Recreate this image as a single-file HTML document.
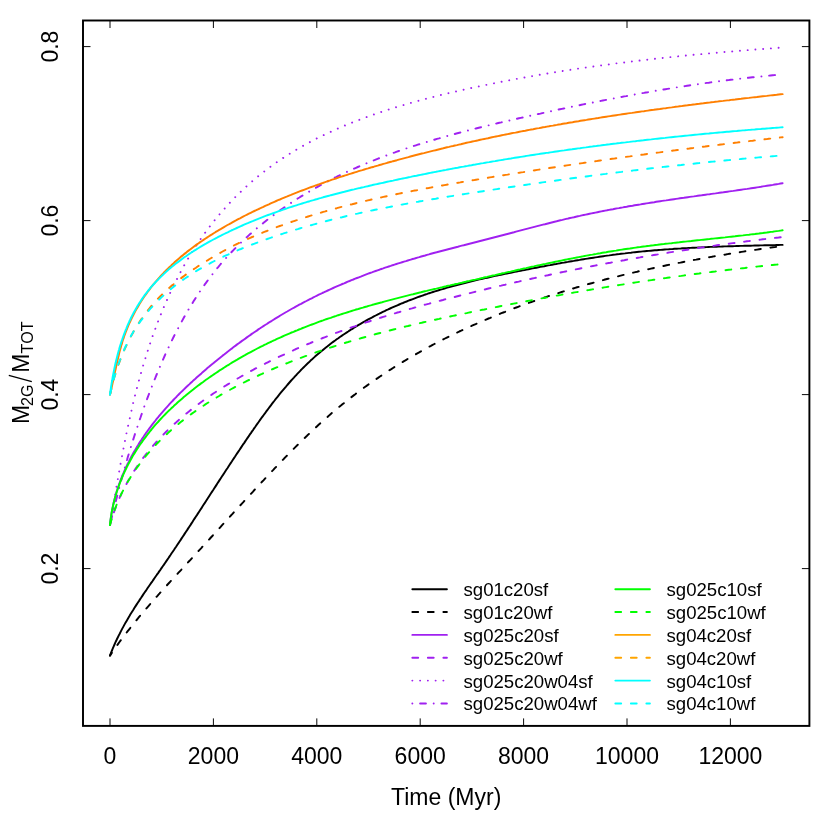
<!DOCTYPE html>
<html><head><meta charset="utf-8"><title>plot</title>
<style>html,body{margin:0;padding:0;background:#fff;}body{width:830px;height:830px;overflow:hidden;font-family:"Liberation Sans",sans-serif;}svg{display:block;}</style></head>
<body>
<svg width="830" height="830" viewBox="0 0 830 830">
<defs><filter id="idf" x="0" y="0" width="830" height="830" filterUnits="userSpaceOnUse" color-interpolation-filters="sRGB"><feOffset dx="0" dy="0"/></filter></defs>
<rect x="0" y="0" width="830" height="830" fill="#ffffff"/>
<g fill="none" stroke-width="1.94" stroke-linecap="round" stroke-linejoin="round">
<path stroke="#000000" d="M110.0 655.6L110.7 653.7L111.4 651.8L112.2 650.0L112.9 648.1L113.7 646.3L114.5 644.5L115.3 642.6L116.2 640.8L117.0 639.0L117.9 637.2L118.8 635.4L119.7 633.7L120.6 631.9L121.5 630.1L122.4 628.4L123.4 626.6L124.3 624.9L125.3 623.1L126.3 621.4L127.3 619.7L128.3 618.0L129.3 616.3L130.3 614.5L131.4 612.8L132.4 611.2L133.5 609.5L134.5 607.8L135.6 606.1L136.7 604.4L137.8 602.7L138.9 601.1L140.0 599.4L141.1 597.8L142.2 596.1L143.3 594.4L144.4 592.8L145.6 591.1L146.7 589.5L147.8 587.8L148.9 586.2L150.1 584.5L151.2 582.9L152.4 581.3L153.5 579.6L154.6 578.0L155.8 576.3L156.9 574.7L158.1 573.1L159.2 571.4L160.4 569.8L161.5 568.1L162.6 566.5L163.8 564.9L164.9 563.2L166.0 561.6L167.2 559.9L168.3 558.3L169.4 556.6L170.5 555.0L171.6 553.3L172.7 551.7L173.9 550.0L175.0 548.3L176.1 546.7L177.2 545.0L178.3 543.4L179.4 541.7L180.5 540.1L181.6 538.4L182.7 536.7L183.8 535.1L184.9 533.4L186.0 531.7L187.1 530.1L188.2 528.4L189.3 526.7L190.4 525.1L191.5 523.4L192.6 521.7L193.6 520.1L194.7 518.4L195.8 516.7L196.9 515.1L198.0 513.4L199.1 511.7L200.2 510.0L201.3 508.4L202.3 506.7L203.4 505.0L204.5 503.4L205.6 501.7L206.7 500.0L207.8 498.3L208.8 496.7L209.9 495.0L211.0 493.3L212.1 491.6L213.2 490.0L214.3 488.3L215.4 486.6L216.5 484.9L217.5 483.3L218.6 481.6L219.7 479.9L220.8 478.2L221.9 476.5L223.0 474.9L224.1 473.2L225.2 471.5L226.3 469.8L227.4 468.2L228.5 466.5L229.6 464.8L230.7 463.1L231.8 461.5L232.9 459.8L234.0 458.1L235.1 456.5L236.2 454.8L237.3 453.1L238.5 451.4L239.6 449.8L240.7 448.1L241.8 446.4L242.9 444.7L244.1 443.1L245.2 441.4L246.3 439.7L247.4 438.1L248.6 436.4L249.7 434.7L250.9 433.1L252.0 431.4L253.2 429.8L254.3 428.1L255.5 426.5L256.6 424.8L257.8 423.2L259.0 421.5L260.1 419.9L261.3 418.2L262.5 416.6L263.7 415.0L264.9 413.4L266.1 411.7L267.3 410.1L268.5 408.5L269.7 406.9L270.9 405.3L272.1 403.7L273.3 402.1L274.6 400.5L275.8 398.9L277.1 397.4L278.3 395.8L279.6 394.2L280.8 392.7L282.1 391.1L283.4 389.6L284.7 388.1L286.0 386.6L287.3 385.0L288.6 383.5L289.9 382.0L291.2 380.5L292.5 379.1L293.9 377.6L295.2 376.1L296.6 374.7L298.0 373.2L299.3 371.8L300.7 370.3L302.1 368.9L303.5 367.5L304.9 366.1L306.3 364.7L307.8 363.3L309.2 362.0L310.6 360.6L312.1 359.3L313.6 357.9L315.0 356.6L316.5 355.3L318.0 354.0L319.5 352.7L321.0 351.4L322.6 350.2L324.1 348.9L325.6 347.7L327.2 346.5L328.8 345.2L330.3 344.0L331.9 342.8L333.5 341.6L335.1 340.5L336.7 339.3L338.3 338.2L339.9 337.0L341.6 335.9L343.2 334.8L344.8 333.7L346.5 332.6L348.2 331.5L349.8 330.4L351.5 329.3L353.2 328.3L354.9 327.2L356.6 326.2L358.3 325.2L360.0 324.2L361.7 323.1L363.4 322.2L365.2 321.2L366.9 320.2L368.7 319.2L370.4 318.3L372.2 317.4L373.9 316.4L375.7 315.5L377.5 314.6L379.3 313.7L381.0 312.8L382.8 311.9L384.6 311.1L386.4 310.2L388.2 309.4L390.1 308.5L391.9 307.7L393.7 306.9L395.5 306.1L397.4 305.3L399.2 304.5L401.1 303.7L402.9 303.0L404.8 302.2L406.6 301.5L408.5 300.7L410.3 300.0L412.2 299.3L414.1 298.6L416.0 297.9L417.8 297.2L419.7 296.5L421.6 295.8L423.5 295.2L425.4 294.5L427.3 293.9L429.2 293.2L431.1 292.6L433.0 292.0L434.9 291.4L436.8 290.8L438.7 290.2L440.6 289.6L442.6 289.1L444.5 288.5L446.4 287.9L448.3 287.4L450.3 286.8L452.2 286.3L454.1 285.8L456.1 285.2L458.0 284.7L459.9 284.2L461.9 283.7L463.8 283.2L465.8 282.7L467.7 282.2L469.7 281.7L471.6 281.3L473.6 280.8L475.5 280.3L477.5 279.9L479.4 279.4L481.4 279.0L483.3 278.5L485.3 278.1L487.3 277.7L489.2 277.2L491.2 276.8L493.1 276.4L495.1 275.9L497.1 275.5L499.0 275.1L501.0 274.7L503.0 274.3L504.9 273.9L506.9 273.5L508.9 273.1L510.8 272.7L512.8 272.3L514.8 271.9L516.7 271.5L518.7 271.1L520.7 270.7L522.6 270.3L524.6 270.0L526.6 269.6L528.5 269.2L530.5 268.8L532.5 268.4L534.4 268.0L536.4 267.7L538.4 267.3L540.3 266.9L542.3 266.5L544.3 266.2L546.2 265.8L548.2 265.4L550.2 265.1L552.1 264.7L554.1 264.3L556.1 264.0L558.0 263.6L560.0 263.3L561.9 262.9L563.9 262.6L565.9 262.2L567.8 261.9L569.8 261.5L571.8 261.2L573.7 260.9L575.7 260.5L577.7 260.2L579.6 259.9L581.6 259.5L583.6 259.2L585.5 258.9L587.5 258.6L589.5 258.3L591.5 258.0L593.4 257.7L595.4 257.4L597.4 257.1L599.3 256.8L601.3 256.5L603.3 256.2L605.2 255.9L607.2 255.6L609.2 255.4L611.2 255.1L613.1 254.8L615.1 254.6L617.1 254.3L619.1 254.1L621.0 253.8L623.0 253.6L625.0 253.4L627.0 253.1L629.0 252.9L630.9 252.7L632.9 252.4L634.9 252.2L636.9 252.0L638.9 251.8L640.9 251.6L642.8 251.4L644.8 251.2L646.8 251.0L648.8 250.9L650.8 250.7L652.8 250.5L654.8 250.3L656.8 250.2L658.7 250.0L660.7 249.9L662.7 249.7L664.7 249.5L666.7 249.4L668.7 249.3L670.7 249.1L672.7 249.0L674.7 248.8L676.7 248.7L678.7 248.6L680.7 248.5L682.7 248.3L684.7 248.2L686.6 248.1L688.6 248.0L690.6 247.9L692.6 247.8L694.6 247.7L696.6 247.6L698.6 247.5L700.6 247.4L702.6 247.3L704.6 247.2L706.6 247.1L708.6 247.0L710.6 246.9L712.6 246.9L714.6 246.8L716.6 246.7L718.6 246.6L720.6 246.6L722.6 246.5L724.6 246.4L726.6 246.4L728.6 246.3L730.6 246.2L732.6 246.2L734.6 246.1L736.6 246.0L738.6 246.0L740.6 245.9L742.6 245.9L744.6 245.8L746.6 245.8L748.6 245.7L750.6 245.7L752.6 245.6L754.6 245.5L756.6 245.5L758.6 245.5L760.6 245.4L762.6 245.4L764.6 245.3L766.6 245.3L768.6 245.2L770.6 245.2L772.6 245.1L774.6 245.1L776.6 245.0L778.6 245.0L780.6 244.9L782.6 244.9"/>
<path stroke="#000000" stroke-dasharray="5.82 9.70" stroke-dashoffset="2.5" d="M110.0 655.6L111.1 653.9L112.2 652.3L113.4 650.6L114.5 649.0L115.7 647.4L116.8 645.8L118.0 644.1L119.1 642.5L120.3 640.9L121.5 639.3L122.7 637.7L123.9 636.1L125.1 634.6L126.3 633.0L127.5 631.4L128.8 629.8L130.0 628.3L131.2 626.7L132.5 625.1L133.7 623.6L135.0 622.1L136.2 620.5L137.5 619.0L138.7 617.4L140.0 615.9L141.3 614.4L142.6 612.9L143.9 611.3L145.2 609.8L146.5 608.3L147.8 606.8L149.1 605.3L150.4 603.8L151.7 602.3L153.0 600.8L154.3 599.3L155.6 597.8L157.0 596.3L158.3 594.8L159.6 593.4L160.9 591.9L162.3 590.4L163.6 588.9L165.0 587.4L166.3 586.0L167.6 584.5L169.0 583.0L170.3 581.6L171.7 580.1L173.0 578.6L174.4 577.1L175.7 575.7L177.1 574.2L178.5 572.7L179.8 571.3L181.2 569.8L182.5 568.3L183.9 566.9L185.2 565.4L186.6 563.9L187.9 562.5L189.3 561.0L190.7 559.6L192.0 558.1L193.4 556.6L194.7 555.1L196.1 553.7L197.4 552.2L198.8 550.7L200.1 549.3L201.5 547.8L202.8 546.3L204.2 544.8L205.5 543.4L206.9 541.9L208.2 540.4L209.6 539.0L210.9 537.5L212.3 536.0L213.6 534.5L215.0 533.1L216.3 531.6L217.7 530.1L219.0 528.6L220.4 527.2L221.7 525.7L223.0 524.2L224.4 522.7L225.7 521.3L227.1 519.8L228.4 518.3L229.8 516.8L231.1 515.3L232.5 513.9L233.8 512.4L235.2 510.9L236.5 509.5L237.9 508.0L239.2 506.5L240.6 505.0L241.9 503.6L243.3 502.1L244.6 500.6L246.0 499.1L247.4 497.7L248.7 496.2L250.1 494.7L251.4 493.3L252.8 491.8L254.1 490.3L255.5 488.9L256.9 487.4L258.2 485.9L259.6 484.5L260.9 483.0L262.3 481.5L263.7 480.1L265.0 478.6L266.4 477.2L267.8 475.7L269.1 474.2L270.5 472.8L271.9 471.3L273.3 469.9L274.6 468.4L276.0 467.0L277.4 465.5L278.8 464.1L280.2 462.7L281.6 461.2L282.9 459.8L284.3 458.3L285.7 456.9L287.1 455.5L288.5 454.0L289.9 452.6L291.3 451.2L292.7 449.8L294.1 448.4L295.6 446.9L297.0 445.5L298.4 444.1L299.8 442.7L301.2 441.3L302.7 439.9L304.1 438.5L305.5 437.2L307.0 435.8L308.4 434.4L309.9 433.0L311.3 431.6L312.8 430.3L314.2 428.9L315.7 427.6L317.1 426.2L318.6 424.8L320.1 423.5L321.6 422.2L323.0 420.8L324.5 419.5L326.0 418.2L327.5 416.9L329.0 415.6L330.5 414.2L332.0 412.9L333.5 411.6L335.1 410.4L336.6 409.1L338.1 407.8L339.7 406.5L341.2 405.3L342.7 404.0L344.3 402.8L345.8 401.5L347.4 400.3L349.0 399.0L350.5 397.8L352.1 396.6L353.7 395.4L355.3 394.2L356.9 392.9L358.5 391.8L360.1 390.6L361.7 389.4L363.3 388.2L364.9 387.0L366.5 385.9L368.1 384.7L369.8 383.5L371.4 382.4L373.0 381.2L374.7 380.1L376.3 379.0L378.0 377.9L379.6 376.7L381.3 375.6L382.9 374.5L384.6 373.4L386.3 372.3L387.9 371.2L389.6 370.1L391.3 369.1L393.0 368.0L394.7 366.9L396.4 365.9L398.1 364.8L399.8 363.8L401.5 362.7L403.2 361.7L404.9 360.7L406.6 359.6L408.3 358.6L410.0 357.6L411.7 356.6L413.5 355.6L415.2 354.6L416.9 353.6L418.7 352.6L420.4 351.6L422.1 350.7L423.9 349.7L425.6 348.7L427.4 347.8L429.1 346.8L430.9 345.9L432.6 344.9L434.4 344.0L436.2 343.1L437.9 342.2L439.7 341.2L441.5 340.3L443.2 339.4L445.0 338.5L446.8 337.6L448.6 336.7L450.4 335.9L452.2 335.0L454.0 334.1L455.8 333.2L457.5 332.4L459.3 331.5L461.1 330.7L463.0 329.8L464.8 329.0L466.6 328.2L468.4 327.3L470.2 326.5L472.0 325.7L473.8 324.9L475.7 324.1L477.5 323.2L479.3 322.4L481.1 321.7L483.0 320.9L484.8 320.1L486.6 319.3L488.5 318.5L490.3 317.8L492.2 317.0L494.0 316.2L495.8 315.5L497.7 314.7L499.5 314.0L501.4 313.2L503.3 312.5L505.1 311.8L507.0 311.0L508.8 310.3L510.7 309.6L512.6 308.9L514.4 308.2L516.3 307.5L518.2 306.8L520.0 306.1L521.9 305.4L523.8 304.7L525.7 304.0L527.6 303.4L529.4 302.7L531.3 302.0L533.2 301.4L535.1 300.7L537.0 300.1L538.9 299.4L540.8 298.8L542.7 298.1L544.6 297.5L546.5 296.9L548.4 296.2L550.3 295.6L552.2 295.0L554.1 294.4L556.0 293.8L557.9 293.2L559.8 292.6L561.7 292.0L563.6 291.4L565.5 290.8L567.5 290.2L569.4 289.6L571.3 289.0L573.2 288.5L575.1 287.9L577.1 287.3L579.0 286.8L580.9 286.2L582.8 285.7L584.8 285.1L586.7 284.6L588.6 284.0L590.6 283.5L592.5 283.0L594.4 282.4L596.4 281.9L598.3 281.4L600.2 280.9L602.2 280.4L604.1 279.8L606.0 279.3L608.0 278.8L609.9 278.3L611.9 277.8L613.8 277.3L615.8 276.9L617.7 276.4L619.7 275.9L621.6 275.4L623.6 274.9L625.5 274.5L627.5 274.0L629.4 273.5L631.4 273.1L633.3 272.6L635.3 272.1L637.2 271.7L639.2 271.2L641.1 270.8L643.1 270.4L645.1 269.9L647.0 269.5L649.0 269.1L650.9 268.6L652.9 268.2L654.8 267.8L656.8 267.4L658.8 266.9L660.7 266.5L662.7 266.1L664.7 265.7L666.6 265.3L668.6 264.9L670.6 264.5L672.5 264.1L674.5 263.7L676.4 263.3L678.4 262.9L680.4 262.6L682.3 262.2L684.3 261.8L686.3 261.4L688.3 261.0L690.2 260.7L692.2 260.3L694.2 259.9L696.1 259.6L698.1 259.2L700.1 258.9L702.0 258.5L704.0 258.2L706.0 257.8L707.9 257.5L709.9 257.1L711.9 256.8L713.8 256.4L715.8 256.1L717.8 255.8L719.7 255.4L721.7 255.1L723.7 254.8L725.7 254.5L727.6 254.1L729.6 253.8L731.6 253.5L733.5 253.2L735.5 252.9L737.5 252.6L739.4 252.3L741.4 251.9L743.4 251.6L745.3 251.3L747.3 251.0L749.3 250.7L751.2 250.5L753.2 250.2L755.1 249.9L757.1 249.6L759.1 249.3L761.0 249.0L763.0 248.7L765.0 248.4L766.9 248.2L768.9 247.9L770.8 247.6L772.8 247.3L774.8 247.1L776.7 246.8L778.7 246.5L780.6 246.3L782.6 246.0"/>
<path stroke="#a020f0" d="M110.0 525.0L110.2 523.0L110.4 520.9L110.7 518.9L111.0 516.9L111.3 514.9L111.6 512.9L112.0 510.9L112.4 508.9L112.8 506.9L113.2 505.0L113.6 503.0L114.1 501.1L114.6 499.1L115.1 497.2L115.6 495.3L116.2 493.3L116.7 491.4L117.3 489.5L117.9 487.6L118.6 485.8L119.2 483.9L119.9 482.0L120.6 480.2L121.3 478.3L122.1 476.5L122.8 474.6L123.6 472.8L124.4 471.0L125.2 469.2L126.0 467.4L126.8 465.6L127.7 463.8L128.6 462.1L129.5 460.3L130.4 458.5L131.3 456.8L132.3 455.0L133.2 453.3L134.2 451.6L135.2 449.9L136.2 448.2L137.2 446.5L138.3 444.8L139.3 443.1L140.4 441.4L141.5 439.8L142.6 438.1L143.7 436.5L144.8 434.8L145.9 433.2L147.1 431.6L148.2 430.0L149.4 428.4L150.6 426.8L151.8 425.2L153.0 423.6L154.2 422.1L155.5 420.5L156.7 418.9L158.0 417.4L159.2 415.9L160.5 414.3L161.8 412.8L163.1 411.3L164.4 409.8L165.7 408.3L167.1 406.8L168.4 405.4L169.7 403.9L171.1 402.4L172.5 401.0L173.8 399.5L175.2 398.1L176.6 396.7L178.0 395.2L179.4 393.8L180.8 392.4L182.3 391.0L183.7 389.6L185.1 388.2L186.6 386.8L188.0 385.5L189.5 384.1L190.9 382.7L192.4 381.4L193.9 380.0L195.4 378.7L196.9 377.3L198.4 376.0L199.9 374.7L201.4 373.4L202.9 372.0L204.4 370.7L205.9 369.4L207.4 368.1L209.0 366.8L210.5 365.5L212.0 364.3L213.6 363.0L215.1 361.7L216.7 360.4L218.2 359.2L219.8 357.9L221.3 356.7L222.9 355.4L224.5 354.2L226.1 352.9L227.6 351.7L229.2 350.5L230.8 349.3L232.4 348.1L234.0 346.8L235.6 345.6L237.2 344.4L238.8 343.3L240.4 342.1L242.0 340.9L243.7 339.7L245.3 338.6L246.9 337.4L248.5 336.2L250.2 335.1L251.8 333.9L253.5 332.8L255.1 331.7L256.8 330.6L258.4 329.4L260.1 328.3L261.7 327.2L263.4 326.1L265.1 325.0L266.8 324.0L268.4 322.9L270.1 321.8L271.8 320.8L273.5 319.7L275.2 318.6L276.9 317.6L278.6 316.6L280.3 315.5L282.0 314.5L283.7 313.5L285.4 312.5L287.2 311.5L288.9 310.5L290.6 309.5L292.4 308.5L294.1 307.6L295.8 306.6L297.6 305.7L299.3 304.7L301.1 303.8L302.8 302.8L304.6 301.9L306.4 301.0L308.1 300.1L309.9 299.2L311.7 298.3L313.4 297.4L315.2 296.5L317.0 295.6L318.8 294.7L320.6 293.9L322.4 293.0L324.2 292.2L326.0 291.3L327.8 290.5L329.6 289.7L331.4 288.8L333.2 288.0L335.0 287.2L336.8 286.4L338.6 285.6L340.5 284.8L342.3 284.0L344.1 283.3L346.0 282.5L347.8 281.7L349.6 281.0L351.5 280.2L353.3 279.5L355.2 278.7L357.0 278.0L358.9 277.3L360.7 276.6L362.6 275.8L364.4 275.1L366.3 274.4L368.2 273.7L370.0 273.0L371.9 272.4L373.8 271.7L375.6 271.0L377.5 270.3L379.4 269.7L381.3 269.0L383.2 268.4L385.1 267.7L386.9 267.1L388.8 266.5L390.7 265.9L392.6 265.2L394.5 264.6L396.4 264.0L398.3 263.4L400.2 262.8L402.1 262.2L404.0 261.6L405.9 261.1L407.8 260.5L409.8 259.9L411.7 259.3L413.6 258.8L415.5 258.2L417.4 257.6L419.3 257.1L421.2 256.5L423.2 256.0L425.1 255.5L427.0 254.9L428.9 254.4L430.9 253.8L432.8 253.3L434.7 252.8L436.6 252.3L438.6 251.7L440.5 251.2L442.4 250.7L444.4 250.2L446.3 249.7L448.2 249.2L450.2 248.7L452.1 248.2L454.0 247.7L456.0 247.2L457.9 246.7L459.9 246.1L461.8 245.6L463.7 245.2L465.7 244.7L467.6 244.2L469.5 243.7L471.5 243.2L473.4 242.7L475.4 242.2L477.3 241.7L479.2 241.2L481.2 240.7L483.1 240.2L485.0 239.7L487.0 239.2L488.9 238.7L490.8 238.2L492.8 237.7L494.7 237.2L496.7 236.7L498.6 236.2L500.5 235.7L502.5 235.2L504.4 234.7L506.3 234.2L508.3 233.7L510.2 233.2L512.1 232.7L514.0 232.2L516.0 231.6L517.9 231.1L519.8 230.6L521.8 230.1L523.7 229.6L525.6 229.1L527.6 228.6L529.5 228.1L531.4 227.6L533.4 227.1L535.3 226.6L537.2 226.1L539.2 225.6L541.1 225.1L543.0 224.6L544.9 224.2L546.9 223.7L548.8 223.2L550.7 222.7L552.7 222.2L554.6 221.7L556.6 221.3L558.5 220.8L560.4 220.3L562.4 219.9L564.3 219.4L566.2 218.9L568.2 218.5L570.1 218.0L572.1 217.6L574.0 217.2L575.9 216.7L577.9 216.3L579.8 215.9L581.8 215.4L583.7 215.0L585.7 214.6L587.6 214.2L589.6 213.8L591.5 213.4L593.5 213.0L595.4 212.6L597.4 212.2L599.3 211.8L601.3 211.4L603.2 211.0L605.2 210.6L607.1 210.3L609.1 209.9L611.1 209.5L613.0 209.2L615.0 208.8L616.9 208.4L618.9 208.1L620.8 207.7L622.8 207.4L624.8 207.0L626.7 206.7L628.7 206.3L630.7 206.0L632.6 205.7L634.6 205.3L636.6 205.0L638.5 204.7L640.5 204.4L642.5 204.0L644.4 203.7L646.4 203.4L648.4 203.1L650.3 202.8L652.3 202.5L654.3 202.2L656.2 201.8L658.2 201.5L660.2 201.2L662.2 200.9L664.1 200.6L666.1 200.4L668.1 200.1L670.1 199.8L672.0 199.5L674.0 199.2L676.0 198.9L678.0 198.6L679.9 198.3L681.9 198.0L683.9 197.8L685.9 197.5L687.8 197.2L689.8 196.9L691.8 196.6L693.8 196.4L695.8 196.1L697.7 195.8L699.7 195.5L701.7 195.3L703.7 195.0L705.6 194.7L707.6 194.4L709.6 194.2L711.6 193.9L713.6 193.6L715.5 193.4L717.5 193.1L719.5 192.8L721.5 192.5L723.4 192.3L725.4 192.0L727.4 191.7L729.4 191.4L731.4 191.1L733.3 190.9L735.3 190.6L737.3 190.3L739.3 190.0L741.2 189.7L743.2 189.4L745.2 189.1L747.2 188.9L749.1 188.6L751.1 188.3L753.1 188.0L755.1 187.7L757.0 187.4L759.0 187.1L761.0 186.8L762.9 186.4L764.9 186.1L766.9 185.8L768.8 185.5L770.8 185.2L772.8 184.9L774.7 184.5L776.7 184.2L778.7 183.9L780.6 183.5L782.6 183.2"/>
<path stroke="#a020f0" stroke-dasharray="5.82 9.70" stroke-dashoffset="2.3" d="M110.0 525.0L110.6 523.0L111.1 521.0L111.7 519.0L112.3 517.0L113.0 515.1L113.6 513.1L114.3 511.2L115.0 509.3L115.7 507.4L116.4 505.5L117.2 503.6L117.9 501.7L118.7 499.9L119.5 498.0L120.3 496.2L121.2 494.4L122.0 492.6L122.9 490.8L123.8 489.0L124.7 487.2L125.6 485.4L126.6 483.7L127.5 481.9L128.5 480.2L129.5 478.5L130.5 476.8L131.5 475.1L132.6 473.4L133.6 471.7L134.7 470.1L135.8 468.4L136.9 466.8L138.0 465.1L139.1 463.5L140.3 461.9L141.4 460.3L142.6 458.7L143.8 457.1L145.0 455.6L146.2 454.0L147.4 452.5L148.7 451.0L149.9 449.4L151.2 447.9L152.5 446.4L153.8 444.9L155.1 443.5L156.4 442.0L157.7 440.5L159.0 439.1L160.4 437.6L161.7 436.2L163.1 434.8L164.5 433.4L165.9 432.0L167.3 430.6L168.7 429.2L170.1 427.9L171.6 426.5L173.0 425.2L174.5 423.8L176.0 422.5L177.4 421.2L178.9 419.9L180.4 418.6L181.9 417.3L183.4 416.0L184.9 414.7L186.5 413.4L188.0 412.2L189.6 410.9L191.1 409.7L192.7 408.5L194.3 407.3L195.8 406.1L197.4 404.9L199.0 403.7L200.6 402.5L202.3 401.3L203.9 400.1L205.5 399.0L207.1 397.8L208.8 396.7L210.4 395.5L212.1 394.4L213.7 393.3L215.4 392.2L217.1 391.1L218.8 390.0L220.5 388.9L222.2 387.8L223.8 386.8L225.6 385.7L227.3 384.6L229.0 383.6L230.7 382.5L232.4 381.5L234.2 380.5L235.9 379.5L237.6 378.5L239.4 377.5L241.1 376.5L242.9 375.5L244.6 374.5L246.4 373.5L248.2 372.5L249.9 371.6L251.7 370.6L253.5 369.7L255.2 368.7L257.0 367.8L258.8 366.9L260.6 365.9L262.4 365.0L264.2 364.1L266.0 363.2L267.8 362.3L269.6 361.4L271.4 360.5L273.2 359.6L275.0 358.8L276.8 357.9L278.6 357.0L280.4 356.2L282.2 355.3L284.1 354.5L285.9 353.7L287.7 352.8L289.5 352.0L291.4 351.2L293.2 350.4L295.0 349.5L296.8 348.7L298.7 347.9L300.5 347.1L302.4 346.4L304.2 345.6L306.1 344.8L307.9 344.0L309.7 343.3L311.6 342.5L313.4 341.7L315.3 341.0L317.2 340.2L319.0 339.5L320.9 338.8L322.7 338.0L324.6 337.3L326.5 336.6L328.3 335.9L330.2 335.1L332.1 334.4L334.0 333.7L335.8 333.0L337.7 332.3L339.6 331.6L341.5 331.0L343.3 330.3L345.2 329.6L347.1 328.9L349.0 328.3L350.9 327.6L352.8 326.9L354.7 326.3L356.6 325.6L358.4 325.0L360.3 324.3L362.2 323.7L364.1 323.1L366.0 322.4L367.9 321.8L369.8 321.2L371.7 320.6L373.6 319.9L375.6 319.3L377.5 318.7L379.4 318.1L381.3 317.5L383.2 316.9L385.1 316.3L387.0 315.7L388.9 315.2L390.8 314.6L392.8 314.0L394.7 313.4L396.6 312.8L398.5 312.3L400.4 311.7L402.4 311.1L404.3 310.6L406.2 310.0L408.1 309.5L410.0 308.9L412.0 308.4L413.9 307.8L415.8 307.3L417.8 306.7L419.7 306.2L421.6 305.7L423.5 305.1L425.5 304.6L427.4 304.1L429.3 303.6L431.3 303.0L433.2 302.5L435.1 302.0L437.1 301.5L439.0 301.0L441.0 300.5L442.9 300.0L444.8 299.4L446.8 298.9L448.7 298.4L450.6 297.9L452.6 297.4L454.5 297.0L456.5 296.5L458.4 296.0L460.3 295.5L462.3 295.0L464.2 294.5L466.2 294.0L468.1 293.5L470.1 293.1L472.0 292.6L473.9 292.1L475.9 291.6L477.8 291.2L479.8 290.7L481.7 290.2L483.7 289.7L485.6 289.3L487.5 288.8L489.5 288.3L491.4 287.9L493.4 287.4L495.3 287.0L497.3 286.5L499.2 286.0L501.2 285.6L503.1 285.1L505.1 284.7L507.0 284.2L508.9 283.8L510.9 283.3L512.8 282.9L514.8 282.5L516.7 282.0L518.7 281.6L520.6 281.1L522.6 280.7L524.5 280.3L526.5 279.8L528.4 279.4L530.4 279.0L532.3 278.5L534.3 278.1L536.2 277.7L538.2 277.3L540.1 276.8L542.1 276.4L544.0 276.0L546.0 275.6L547.9 275.2L549.9 274.7L551.8 274.3L553.8 273.9L555.7 273.5L557.7 273.1L559.6 272.7L561.6 272.3L563.6 271.9L565.5 271.5L567.5 271.1L569.4 270.7L571.4 270.3L573.3 269.9L575.3 269.5L577.2 269.1L579.2 268.7L581.2 268.3L583.1 267.9L585.1 267.5L587.0 267.2L589.0 266.8L590.9 266.4L592.9 266.0L594.9 265.6L596.8 265.3L598.8 264.9L600.7 264.5L602.7 264.1L604.7 263.8L606.6 263.4L608.6 263.0L610.5 262.7L612.5 262.3L614.5 261.9L616.4 261.6L618.4 261.2L620.4 260.9L622.3 260.5L624.3 260.2L626.2 259.8L628.2 259.4L630.2 259.1L632.1 258.8L634.1 258.4L636.1 258.1L638.0 257.7L640.0 257.4L642.0 257.0L643.9 256.7L645.9 256.4L647.9 256.0L649.8 255.7L651.8 255.4L653.8 255.0L655.7 254.7L657.7 254.4L659.7 254.0L661.7 253.7L663.6 253.4L665.6 253.1L667.6 252.8L669.5 252.4L671.5 252.1L673.5 251.8L675.5 251.5L677.4 251.2L679.4 250.9L681.4 250.6L683.4 250.3L685.3 250.0L687.3 249.7L689.3 249.4L691.3 249.1L693.2 248.8L695.2 248.5L697.2 248.2L699.2 247.9L701.1 247.6L703.1 247.3L705.1 247.0L707.1 246.7L709.1 246.4L711.0 246.2L713.0 245.9L715.0 245.6L717.0 245.3L719.0 245.0L720.9 244.8L722.9 244.5L724.9 244.2L726.9 243.9L728.9 243.7L730.9 243.4L732.8 243.1L734.8 242.9L736.8 242.6L738.8 242.4L740.8 242.1L742.8 241.8L744.8 241.6L746.8 241.3L748.7 241.1L750.7 240.8L752.7 240.6L754.7 240.3L756.7 240.1L758.7 239.8L760.7 239.6L762.7 239.3L764.7 239.1L766.7 238.9L768.6 238.6L770.6 238.4L772.6 238.2L774.6 237.9L776.6 237.7L778.6 237.5L780.6 237.2L782.6 237.0"/>
<path stroke="#a020f0" stroke-dasharray="0.01 7.75" d="M110.0 525.0L110.3 523.0L110.7 521.1L111.0 519.1L111.3 517.2L111.6 515.2L112.0 513.3L112.3 511.3L112.6 509.4L112.9 507.4L113.3 505.5L113.6 503.5L113.9 501.5L114.3 499.6L114.6 497.6L114.9 495.7L115.3 493.7L115.6 491.7L115.9 489.8L116.3 487.8L116.6 485.8L117.0 483.9L117.3 481.9L117.7 480.0L118.0 478.0L118.4 476.0L118.7 474.1L119.1 472.1L119.4 470.1L119.8 468.1L120.1 466.2L120.5 464.2L120.8 462.2L121.2 460.3L121.6 458.3L122.0 456.3L122.3 454.4L122.7 452.4L123.1 450.4L123.5 448.5L123.8 446.5L124.2 444.5L124.6 442.6L125.0 440.6L125.4 438.6L125.8 436.7L126.2 434.7L126.6 432.7L127.0 430.8L127.4 428.8L127.9 426.9L128.3 424.9L128.7 422.9L129.1 421.0L129.6 419.0L130.0 417.1L130.4 415.1L130.9 413.1L131.3 411.2L131.8 409.2L132.2 407.3L132.7 405.3L133.1 403.4L133.6 401.4L134.1 399.5L134.6 397.5L135.0 395.6L135.5 393.6L136.0 391.7L136.5 389.8L137.0 387.8L137.5 385.9L138.0 383.9L138.5 382.0L139.1 380.1L139.6 378.1L140.1 376.2L140.7 374.3L141.2 372.3L141.7 370.4L142.3 368.5L142.9 366.6L143.4 364.7L144.0 362.7L144.6 360.8L145.2 358.9L145.7 357.0L146.3 355.1L146.9 353.2L147.6 351.3L148.2 349.4L148.8 347.5L149.4 345.6L150.0 343.7L150.7 341.8L151.3 339.9L152.0 338.0L152.6 336.1L153.3 334.2L154.0 332.3L154.7 330.5L155.4 328.6L156.0 326.7L156.7 324.8L157.5 323.0L158.2 321.1L158.9 319.2L159.6 317.4L160.4 315.5L161.1 313.7L161.9 311.8L162.6 310.0L163.4 308.1L164.2 306.3L165.0 304.5L165.8 302.6L166.6 300.8L167.4 299.0L168.2 297.1L169.0 295.3L169.9 293.5L170.7 291.7L171.6 289.9L172.4 288.1L173.3 286.3L174.2 284.5L175.1 282.7L175.9 280.9L176.9 279.1L177.8 277.3L178.7 275.5L179.6 273.8L180.6 272.0L181.5 270.2L182.5 268.5L183.4 266.7L184.4 265.0L185.4 263.2L186.4 261.5L187.4 259.8L188.4 258.1L189.5 256.3L190.5 254.6L191.5 252.9L192.6 251.2L193.7 249.5L194.7 247.9L195.8 246.2L196.9 244.5L198.0 242.8L199.1 241.2L200.3 239.5L201.4 237.9L202.6 236.3L203.7 234.6L204.9 233.0L206.1 231.4L207.2 229.8L208.4 228.2L209.7 226.6L210.9 225.0L212.1 223.4L213.3 221.9L214.6 220.3L215.8 218.8L217.1 217.2L218.4 215.7L219.7 214.2L221.0 212.7L222.3 211.2L223.6 209.7L224.9 208.2L226.2 206.7L227.6 205.2L228.9 203.8L230.3 202.3L231.7 200.9L233.0 199.4L234.4 198.0L235.8 196.6L237.2 195.2L238.6 193.8L240.1 192.4L241.5 191.0L242.9 189.7L244.4 188.3L245.8 187.0L247.3 185.6L248.8 184.3L250.3 183.0L251.8 181.7L253.3 180.4L254.8 179.1L256.3 177.9L257.8 176.6L259.3 175.3L260.9 174.1L262.4 172.9L264.0 171.7L265.5 170.5L267.1 169.3L268.7 168.1L270.3 166.9L271.9 165.7L273.5 164.6L275.1 163.4L276.7 162.3L278.3 161.2L280.0 160.1L281.6 159.0L283.2 157.9L284.9 156.8L286.6 155.7L288.2 154.7L289.9 153.6L291.6 152.6L293.3 151.6L295.0 150.5L296.7 149.5L298.4 148.5L300.1 147.5L301.8 146.6L303.5 145.6L305.2 144.6L307.0 143.7L308.7 142.7L310.5 141.8L312.2 140.9L314.0 139.9L315.7 139.0L317.5 138.1L319.3 137.2L321.1 136.4L322.9 135.5L324.7 134.6L326.5 133.8L328.3 132.9L330.1 132.1L331.9 131.2L333.7 130.4L335.5 129.6L337.3 128.8L339.2 128.0L341.0 127.2L342.8 126.4L344.7 125.6L346.5 124.9L348.4 124.1L350.3 123.4L352.1 122.6L354.0 121.9L355.8 121.1L357.7 120.4L359.6 119.7L361.5 119.0L363.4 118.3L365.3 117.6L367.1 116.9L369.0 116.2L370.9 115.5L372.8 114.9L374.7 114.2L376.7 113.5L378.6 112.9L380.5 112.2L382.4 111.6L384.3 111.0L386.2 110.4L388.2 109.7L390.1 109.1L392.0 108.5L394.0 107.9L395.9 107.3L397.8 106.7L399.8 106.1L401.7 105.6L403.7 105.0L405.6 104.4L407.6 103.9L409.5 103.3L411.5 102.7L413.4 102.2L415.4 101.7L417.3 101.1L419.3 100.6L421.3 100.1L423.2 99.5L425.2 99.0L427.1 98.5L429.1 98.0L431.1 97.5L433.0 97.0L435.0 96.5L437.0 96.0L439.0 95.5L440.9 95.0L442.9 94.6L444.9 94.1L446.8 93.6L448.8 93.1L450.8 92.7L452.8 92.2L454.7 91.8L456.7 91.3L458.7 90.9L460.7 90.4L462.6 90.0L464.6 89.5L466.6 89.1L468.5 88.7L470.5 88.2L472.5 87.8L474.5 87.4L476.4 87.0L478.4 86.5L480.4 86.1L482.3 85.7L484.3 85.3L486.3 84.9L488.2 84.5L490.2 84.1L492.2 83.7L494.1 83.3L496.1 82.9L498.1 82.5L500.0 82.1L502.0 81.7L504.0 81.3L505.9 81.0L507.9 80.6L509.9 80.2L511.8 79.8L513.8 79.5L515.7 79.1L517.7 78.7L519.7 78.4L521.6 78.0L523.6 77.7L525.6 77.3L527.5 77.0L529.5 76.6L531.4 76.3L533.4 75.9L535.4 75.6L537.3 75.2L539.3 74.9L541.2 74.6L543.2 74.2L545.1 73.9L547.1 73.6L549.1 73.2L551.0 72.9L553.0 72.6L554.9 72.3L556.9 72.0L558.9 71.7L560.8 71.3L562.8 71.0L564.7 70.7L566.7 70.4L568.6 70.1L570.6 69.8L572.6 69.5L574.5 69.2L576.5 68.9L578.4 68.6L580.4 68.4L582.3 68.1L584.3 67.8L586.3 67.5L588.2 67.2L590.2 66.9L592.1 66.7L594.1 66.4L596.1 66.1L598.0 65.8L600.0 65.6L601.9 65.3L603.9 65.0L605.9 64.8L607.8 64.5L609.8 64.3L611.7 64.0L613.7 63.7L615.7 63.5L617.6 63.2L619.6 63.0L621.5 62.7L623.5 62.5L625.5 62.3L627.4 62.0L629.4 61.8L631.4 61.5L633.3 61.3L635.3 61.1L637.2 60.8L639.2 60.6L641.2 60.4L643.1 60.1L645.1 59.9L647.1 59.7L649.0 59.5L651.0 59.2L653.0 59.0L655.0 58.8L656.9 58.6L658.9 58.4L660.9 58.1L662.8 57.9L664.8 57.7L666.8 57.5L668.8 57.3L670.7 57.1L672.7 56.9L674.7 56.7L676.7 56.5L678.6 56.3L680.6 56.1L682.6 55.9L684.6 55.7L686.5 55.5L688.5 55.3L690.5 55.1L692.5 54.9L694.5 54.7L696.5 54.5L698.4 54.4L700.4 54.2L702.4 54.0L704.4 53.8L706.4 53.6L708.4 53.4L710.4 53.3L712.3 53.1L714.3 52.9L716.3 52.7L718.3 52.6L720.3 52.4L722.3 52.2L724.3 52.0L726.3 51.9L728.3 51.7L730.3 51.5L732.3 51.4L734.3 51.2L736.3 51.0L738.3 50.9L740.3 50.7L742.3 50.5L744.3 50.4L746.3 50.2L748.3 50.1L750.3 49.9L752.3 49.8L754.3 49.6L756.4 49.4L758.4 49.3L760.4 49.1L762.4 49.0L764.4 48.8L766.4 48.7L768.4 48.5L770.5 48.4L772.5 48.2L774.5 48.1L776.5 47.9L778.6 47.8L780.6 47.6L782.6 47.5"/>
<path stroke="#a020f0" stroke-dasharray="0.01 7.75 5.82 7.76" stroke-dashoffset="4.6" d="M110.0 525.0L110.5 523.0L110.9 521.1L111.4 519.2L111.8 517.2L112.3 515.3L112.8 513.3L113.3 511.4L113.7 509.4L114.2 507.5L114.7 505.5L115.2 503.6L115.7 501.7L116.2 499.7L116.7 497.8L117.2 495.9L117.7 493.9L118.2 492.0L118.7 490.1L119.2 488.1L119.7 486.2L120.2 484.3L120.7 482.4L121.2 480.4L121.8 478.5L122.3 476.6L122.8 474.7L123.3 472.7L123.9 470.8L124.4 468.9L125.0 467.0L125.5 465.1L126.1 463.2L126.6 461.2L127.2 459.3L127.7 457.4L128.3 455.5L128.9 453.6L129.5 451.7L130.0 449.8L130.6 447.9L131.2 446.0L131.8 444.1L132.4 442.2L133.0 440.3L133.6 438.4L134.2 436.5L134.8 434.6L135.4 432.7L136.0 430.8L136.6 428.9L137.3 427.0L137.9 425.1L138.5 423.2L139.2 421.3L139.8 419.4L140.5 417.5L141.1 415.7L141.8 413.8L142.4 411.9L143.1 410.0L143.8 408.1L144.4 406.2L145.1 404.4L145.8 402.5L146.5 400.6L147.2 398.7L147.9 396.9L148.6 395.0L149.3 393.1L150.0 391.2L150.7 389.4L151.5 387.5L152.2 385.6L152.9 383.8L153.7 381.9L154.4 380.0L155.2 378.2L155.9 376.3L156.7 374.5L157.4 372.6L158.2 370.7L159.0 368.9L159.8 367.0L160.6 365.2L161.4 363.4L162.2 361.5L163.0 359.7L163.8 357.8L164.6 356.0L165.4 354.2L166.3 352.3L167.1 350.5L168.0 348.7L168.8 346.9L169.7 345.1L170.6 343.3L171.4 341.4L172.3 339.6L173.2 337.8L174.1 336.0L175.0 334.2L175.9 332.5L176.9 330.7L177.8 328.9L178.7 327.1L179.7 325.3L180.6 323.6L181.6 321.8L182.5 320.1L183.5 318.3L184.5 316.6L185.5 314.8L186.5 313.1L187.5 311.3L188.5 309.6L189.5 307.9L190.6 306.2L191.6 304.5L192.7 302.7L193.7 301.0L194.8 299.4L195.9 297.7L197.0 296.0L198.1 294.3L199.2 292.6L200.3 291.0L201.4 289.3L202.5 287.7L203.7 286.1L204.8 284.4L206.0 282.8L207.2 281.2L208.3 279.6L209.5 278.0L210.7 276.4L212.0 274.8L213.2 273.3L214.4 271.7L215.7 270.1L216.9 268.6L218.2 267.1L219.5 265.5L220.7 264.0L222.0 262.5L223.3 261.0L224.7 259.5L226.0 258.1L227.3 256.6L228.7 255.1L230.0 253.7L231.4 252.2L232.8 250.8L234.1 249.4L235.5 248.0L236.9 246.6L238.3 245.2L239.8 243.8L241.2 242.4L242.6 241.0L244.1 239.7L245.5 238.3L247.0 237.0L248.5 235.6L249.9 234.3L251.4 233.0L252.9 231.7L254.4 230.4L255.9 229.1L257.5 227.8L259.0 226.5L260.5 225.3L262.1 224.0L263.6 222.8L265.2 221.5L266.7 220.3L268.3 219.1L269.9 217.9L271.5 216.7L273.1 215.5L274.7 214.3L276.3 213.1L277.9 211.9L279.5 210.8L281.1 209.6L282.7 208.5L284.4 207.3L286.0 206.2L287.7 205.1L289.3 204.0L291.0 202.9L292.7 201.8L294.3 200.7L296.0 199.6L297.7 198.5L299.4 197.5L301.1 196.4L302.8 195.4L304.5 194.3L306.2 193.3L307.9 192.3L309.7 191.3L311.4 190.3L313.1 189.3L314.9 188.3L316.6 187.3L318.4 186.3L320.1 185.4L321.9 184.4L323.6 183.5L325.4 182.5L327.2 181.6L328.9 180.7L330.7 179.7L332.5 178.8L334.3 177.9L336.1 177.1L337.9 176.2L339.7 175.3L341.5 174.4L343.3 173.6L345.1 172.7L346.9 171.9L348.7 171.0L350.5 170.2L352.3 169.4L354.2 168.6L356.0 167.8L357.8 167.0L359.6 166.2L361.5 165.4L363.3 164.6L365.2 163.8L367.0 163.1L368.9 162.3L370.7 161.5L372.6 160.8L374.4 160.1L376.3 159.3L378.1 158.6L380.0 157.9L381.9 157.2L383.7 156.5L385.6 155.8L387.5 155.1L389.4 154.4L391.3 153.7L393.1 153.0L395.0 152.4L396.9 151.7L398.8 151.0L400.7 150.4L402.6 149.7L404.5 149.1L406.4 148.4L408.3 147.8L410.2 147.2L412.1 146.6L414.0 145.9L415.9 145.3L417.8 144.7L419.7 144.1L421.7 143.5L423.6 142.9L425.5 142.4L427.4 141.8L429.3 141.2L431.3 140.6L433.2 140.1L435.1 139.5L437.0 138.9L439.0 138.4L440.9 137.8L442.8 137.3L444.8 136.7L446.7 136.2L448.6 135.6L450.6 135.1L452.5 134.6L454.4 134.1L456.4 133.5L458.3 133.0L460.3 132.5L462.2 132.0L464.2 131.5L466.1 131.0L468.1 130.5L470.0 130.0L472.0 129.5L473.9 129.0L475.9 128.5L477.8 128.0L479.8 127.5L481.7 127.1L483.7 126.6L485.6 126.1L487.6 125.6L489.5 125.2L491.5 124.7L493.4 124.2L495.4 123.8L497.3 123.3L499.3 122.8L501.3 122.4L503.2 121.9L505.2 121.5L507.1 121.0L509.1 120.6L511.0 120.1L513.0 119.7L515.0 119.2L516.9 118.8L518.9 118.3L520.8 117.9L522.8 117.5L524.7 117.0L526.7 116.6L528.7 116.1L530.6 115.7L532.6 115.3L534.5 114.8L536.5 114.4L538.4 114.0L540.4 113.6L542.3 113.1L544.3 112.7L546.2 112.3L548.2 111.8L550.1 111.4L552.1 111.0L554.0 110.6L556.0 110.2L558.0 109.7L559.9 109.3L561.9 108.9L563.8 108.5L565.8 108.1L567.7 107.7L569.7 107.3L571.6 106.8L573.6 106.4L575.5 106.0L577.5 105.6L579.4 105.2L581.4 104.8L583.3 104.4L585.3 104.0L587.2 103.6L589.2 103.2L591.1 102.8L593.1 102.5L595.0 102.1L597.0 101.7L598.9 101.3L600.9 100.9L602.8 100.5L604.8 100.1L606.8 99.8L608.7 99.4L610.7 99.0L612.6 98.6L614.6 98.3L616.5 97.9L618.5 97.5L620.4 97.1L622.4 96.8L624.3 96.4L626.3 96.1L628.3 95.7L630.2 95.3L632.2 95.0L634.1 94.6L636.1 94.3L638.0 93.9L640.0 93.6L642.0 93.2L643.9 92.9L645.9 92.5L647.8 92.2L649.8 91.8L651.7 91.5L653.7 91.2L655.7 90.8L657.6 90.5L659.6 90.2L661.6 89.9L663.5 89.5L665.5 89.2L667.4 88.9L669.4 88.6L671.4 88.3L673.3 87.9L675.3 87.6L677.3 87.3L679.2 87.0L681.2 86.7L683.2 86.4L685.1 86.1L687.1 85.8L689.1 85.5L691.1 85.2L693.0 84.9L695.0 84.6L697.0 84.3L698.9 84.1L700.9 83.8L702.9 83.5L704.9 83.2L706.8 82.9L708.8 82.7L710.8 82.4L712.8 82.1L714.8 81.9L716.7 81.6L718.7 81.3L720.7 81.1L722.7 80.8L724.7 80.6L726.7 80.3L728.6 80.1L730.6 79.8L732.6 79.6L734.6 79.3L736.6 79.1L738.6 78.9L740.6 78.6L742.6 78.4L744.6 78.2L746.5 78.0L748.5 77.7L750.5 77.5L752.5 77.3L754.5 77.1L756.5 76.9L758.5 76.7L760.5 76.5L762.5 76.3L764.5 76.1L766.5 75.9L768.5 75.7L770.5 75.5L772.6 75.3L774.6 75.1L776.6 74.9L778.6 74.8L780.6 74.6L782.6 74.4"/>
<path stroke="#00ff00" d="M110.0 525.0L110.2 523.0L110.4 520.9L110.7 518.9L111.0 516.9L111.3 514.8L111.6 512.8L112.0 510.8L112.4 508.8L112.8 506.9L113.2 504.9L113.7 502.9L114.2 501.0L114.7 499.0L115.2 497.1L115.8 495.2L116.3 493.3L116.9 491.4L117.6 489.5L118.2 487.6L118.9 485.7L119.6 483.9L120.3 482.0L121.0 480.1L121.7 478.3L122.5 476.5L123.3 474.7L124.1 472.9L124.9 471.1L125.8 469.3L126.6 467.5L127.5 465.7L128.4 464.0L129.4 462.2L130.3 460.5L131.3 458.8L132.2 457.0L133.2 455.3L134.3 453.6L135.3 452.0L136.4 450.3L137.4 448.6L138.5 447.0L139.6 445.3L140.7 443.7L141.9 442.1L143.0 440.4L144.2 438.8L145.4 437.3L146.6 435.7L147.8 434.1L149.0 432.6L150.2 431.0L151.5 429.5L152.8 427.9L154.0 426.4L155.3 424.9L156.7 423.4L158.0 422.0L159.3 420.5L160.7 419.0L162.0 417.6L163.4 416.1L164.8 414.7L166.2 413.3L167.6 411.9L169.0 410.5L170.5 409.1L171.9 407.7L173.4 406.4L174.8 405.0L176.3 403.7L177.8 402.3L179.3 401.0L180.8 399.7L182.3 398.4L183.8 397.1L185.4 395.8L186.9 394.5L188.5 393.2L190.0 392.0L191.6 390.7L193.2 389.5L194.7 388.2L196.3 387.0L197.9 385.8L199.5 384.6L201.1 383.4L202.8 382.2L204.4 381.0L206.0 379.8L207.6 378.7L209.3 377.5L210.9 376.4L212.6 375.2L214.2 374.1L215.9 373.0L217.6 371.9L219.2 370.7L220.9 369.7L222.6 368.6L224.3 367.5L226.0 366.4L227.7 365.3L229.4 364.3L231.1 363.2L232.8 362.2L234.6 361.2L236.3 360.2L238.0 359.1L239.7 358.1L241.5 357.1L243.2 356.2L245.0 355.2L246.7 354.2L248.5 353.2L250.2 352.3L252.0 351.3L253.8 350.4L255.5 349.5L257.3 348.5L259.1 347.6L260.9 346.7L262.7 345.8L264.4 344.9L266.2 344.1L268.0 343.2L269.8 342.3L271.6 341.5L273.4 340.6L275.2 339.8L277.0 338.9L278.9 338.1L280.7 337.3L282.5 336.5L284.3 335.7L286.1 334.9L288.0 334.1L289.8 333.3L291.6 332.5L293.5 331.8L295.3 331.0L297.1 330.3L299.0 329.5L300.8 328.8L302.7 328.0L304.5 327.3L306.4 326.6L308.2 325.9L310.1 325.2L311.9 324.5L313.8 323.8L315.7 323.1L317.5 322.4L319.4 321.7L321.3 321.0L323.1 320.4L325.0 319.7L326.9 319.0L328.8 318.4L330.7 317.8L332.5 317.1L334.4 316.5L336.3 315.9L338.2 315.2L340.1 314.6L342.0 314.0L343.9 313.4L345.8 312.8L347.7 312.2L349.6 311.6L351.5 311.0L353.4 310.4L355.3 309.8L357.2 309.3L359.1 308.7L361.0 308.1L362.9 307.6L364.8 307.0L366.8 306.5L368.7 305.9L370.6 305.4L372.5 304.8L374.4 304.3L376.4 303.7L378.3 303.2L380.2 302.7L382.1 302.2L384.1 301.6L386.0 301.1L387.9 300.6L389.8 300.1L391.8 299.6L393.7 299.1L395.6 298.6L397.6 298.1L399.5 297.6L401.4 297.1L403.4 296.6L405.3 296.1L407.3 295.6L409.2 295.1L411.1 294.6L413.1 294.2L415.0 293.7L417.0 293.2L418.9 292.7L420.9 292.3L422.8 291.8L424.8 291.3L426.7 290.9L428.6 290.4L430.6 289.9L432.5 289.5L434.5 289.0L436.4 288.6L438.4 288.1L440.3 287.6L442.3 287.2L444.2 286.7L446.2 286.3L448.1 285.8L450.1 285.4L452.0 284.9L454.0 284.5L455.9 284.0L457.9 283.6L459.8 283.1L461.8 282.7L463.7 282.2L465.7 281.8L467.6 281.3L469.6 280.9L471.5 280.4L473.5 280.0L475.4 279.6L477.4 279.1L479.3 278.7L481.3 278.2L483.2 277.8L485.2 277.3L487.1 276.9L489.1 276.4L491.0 276.0L493.0 275.5L494.9 275.1L496.9 274.6L498.8 274.2L500.8 273.8L502.7 273.3L504.7 272.9L506.6 272.4L508.5 272.0L510.5 271.6L512.4 271.1L514.4 270.7L516.3 270.2L518.3 269.8L520.2 269.4L522.2 268.9L524.1 268.5L526.1 268.1L528.0 267.6L530.0 267.2L531.9 266.8L533.9 266.4L535.8 265.9L537.8 265.5L539.7 265.1L541.7 264.7L543.6 264.3L545.6 263.9L547.5 263.4L549.5 263.0L551.4 262.6L553.4 262.2L555.3 261.8L557.3 261.4L559.2 261.0L561.2 260.6L563.1 260.2L565.1 259.8L567.1 259.4L569.0 259.0L571.0 258.6L572.9 258.3L574.9 257.9L576.8 257.5L578.8 257.1L580.7 256.8L582.7 256.4L584.7 256.0L586.6 255.6L588.6 255.3L590.5 254.9L592.5 254.6L594.5 254.2L596.4 253.9L598.4 253.5L600.3 253.2L602.3 252.8L604.3 252.5L606.2 252.2L608.2 251.8L610.2 251.5L612.1 251.2L614.1 250.9L616.1 250.6L618.0 250.2L620.0 249.9L622.0 249.6L624.0 249.3L625.9 249.0L627.9 248.7L629.9 248.5L631.8 248.2L633.8 247.9L635.8 247.6L637.8 247.3L639.8 247.1L641.7 246.8L643.7 246.5L645.7 246.3L647.7 246.0L649.6 245.8L651.6 245.5L653.6 245.3L655.6 245.0L657.6 244.8L659.6 244.5L661.5 244.3L663.5 244.1L665.5 243.8L667.5 243.6L669.5 243.4L671.5 243.2L673.5 242.9L675.4 242.7L677.4 242.5L679.4 242.3L681.4 242.0L683.4 241.8L685.4 241.6L687.4 241.4L689.4 241.2L691.3 241.0L693.3 240.7L695.3 240.5L697.3 240.3L699.3 240.1L701.3 239.9L703.3 239.7L705.3 239.5L707.3 239.3L709.2 239.1L711.2 238.8L713.2 238.6L715.2 238.4L717.2 238.2L719.2 238.0L721.2 237.8L723.2 237.6L725.1 237.4L727.1 237.1L729.1 236.9L731.1 236.7L733.1 236.5L735.1 236.3L737.1 236.0L739.1 235.8L741.0 235.6L743.0 235.4L745.0 235.1L747.0 234.9L749.0 234.7L751.0 234.4L752.9 234.2L754.9 234.0L756.9 233.7L758.9 233.5L760.9 233.2L762.8 233.0L764.8 232.7L766.8 232.5L768.8 232.2L770.8 231.9L772.7 231.7L774.7 231.4L776.7 231.1L778.7 230.9L780.6 230.6L782.6 230.3"/>
<path stroke="#00ff00" stroke-dasharray="5.82 9.70" d="M110.0 525.0L110.5 523.0L111.1 521.0L111.7 519.0L112.3 517.0L112.9 515.1L113.5 513.1L114.2 511.2L114.9 509.3L115.6 507.4L116.3 505.5L117.0 503.6L117.8 501.8L118.6 499.9L119.4 498.1L120.3 496.3L121.1 494.4L122.0 492.6L122.9 490.9L123.8 489.1L124.7 487.3L125.7 485.6L126.6 483.8L127.6 482.1L128.6 480.4L129.7 478.7L130.7 477.0L131.8 475.3L132.8 473.7L133.9 472.0L135.0 470.4L136.2 468.8L137.3 467.2L138.5 465.6L139.6 464.0L140.8 462.4L142.0 460.8L143.2 459.3L144.5 457.8L145.7 456.2L147.0 454.7L148.3 453.2L149.6 451.7L150.9 450.2L152.2 448.8L153.5 447.3L154.9 445.9L156.2 444.4L157.6 443.0L159.0 441.6L160.4 440.2L161.8 438.8L163.2 437.4L164.7 436.1L166.1 434.7L167.6 433.4L169.0 432.0L170.5 430.7L172.0 429.4L173.5 428.1L175.0 426.8L176.5 425.6L178.1 424.3L179.6 423.0L181.1 421.8L182.7 420.6L184.3 419.3L185.9 418.1L187.4 416.9L189.0 415.7L190.6 414.6L192.2 413.4L193.9 412.2L195.5 411.1L197.1 409.9L198.8 408.8L200.4 407.7L202.1 406.6L203.8 405.5L205.4 404.4L207.1 403.3L208.8 402.2L210.5 401.1L212.2 400.1L213.9 399.0L215.6 398.0L217.4 397.0L219.1 396.0L220.8 394.9L222.6 393.9L224.3 392.9L226.1 392.0L227.8 391.0L229.6 390.0L231.4 389.0L233.1 388.1L234.9 387.1L236.7 386.2L238.5 385.3L240.3 384.4L242.1 383.4L243.9 382.5L245.7 381.6L247.5 380.7L249.3 379.9L251.1 379.0L252.9 378.1L254.7 377.2L256.5 376.4L258.4 375.5L260.2 374.7L262.0 373.9L263.9 373.0L265.7 372.2L267.5 371.4L269.4 370.6L271.2 369.8L273.0 369.0L274.9 368.2L276.7 367.4L278.6 366.7L280.4 365.9L282.3 365.1L284.1 364.4L286.0 363.6L287.9 362.9L289.7 362.1L291.6 361.4L293.4 360.7L295.3 360.0L297.2 359.2L299.0 358.5L300.9 357.8L302.8 357.1L304.7 356.4L306.5 355.8L308.4 355.1L310.3 354.4L312.2 353.7L314.1 353.1L315.9 352.4L317.8 351.7L319.7 351.1L321.6 350.5L323.5 349.8L325.4 349.2L327.3 348.6L329.2 347.9L331.1 347.3L333.0 346.7L334.9 346.1L336.8 345.5L338.7 344.9L340.6 344.3L342.5 343.7L344.4 343.1L346.3 342.5L348.2 342.0L350.1 341.4L352.1 340.8L354.0 340.3L355.9 339.7L357.8 339.1L359.7 338.6L361.6 338.0L363.6 337.5L365.5 337.0L367.4 336.4L369.3 335.9L371.3 335.4L373.2 334.8L375.1 334.3L377.0 333.8L379.0 333.3L380.9 332.8L382.8 332.3L384.8 331.8L386.7 331.3L388.6 330.8L390.6 330.3L392.5 329.8L394.5 329.3L396.4 328.8L398.3 328.3L400.3 327.9L402.2 327.4L404.2 326.9L406.1 326.4L408.0 326.0L410.0 325.5L411.9 325.1L413.9 324.6L415.8 324.1L417.8 323.7L419.7 323.2L421.7 322.8L423.6 322.3L425.6 321.9L427.5 321.5L429.5 321.0L431.4 320.6L433.4 320.2L435.3 319.7L437.3 319.3L439.2 318.9L441.2 318.4L443.1 318.0L445.1 317.6L447.0 317.2L449.0 316.8L451.0 316.3L452.9 315.9L454.9 315.5L456.8 315.1L458.8 314.7L460.7 314.3L462.7 313.9L464.7 313.5L466.6 313.1L468.6 312.6L470.5 312.2L472.5 311.8L474.5 311.4L476.4 311.0L478.4 310.6L480.3 310.2L482.3 309.8L484.3 309.5L486.2 309.1L488.2 308.7L490.1 308.3L492.1 307.9L494.1 307.5L496.0 307.1L498.0 306.7L500.0 306.3L501.9 305.9L503.9 305.5L505.8 305.2L507.8 304.8L509.8 304.4L511.7 304.0L513.7 303.6L515.7 303.3L517.6 302.9L519.6 302.5L521.5 302.1L523.5 301.8L525.5 301.4L527.4 301.0L529.4 300.6L531.4 300.3L533.3 299.9L535.3 299.5L537.3 299.2L539.2 298.8L541.2 298.4L543.2 298.1L545.1 297.7L547.1 297.4L549.1 297.0L551.0 296.6L553.0 296.3L555.0 295.9L556.9 295.6L558.9 295.2L560.9 294.9L562.8 294.5L564.8 294.2L566.8 293.8L568.7 293.5L570.7 293.1L572.7 292.8L574.6 292.4L576.6 292.1L578.6 291.8L580.5 291.4L582.5 291.1L584.5 290.7L586.5 290.4L588.4 290.1L590.4 289.7L592.4 289.4L594.3 289.1L596.3 288.8L598.3 288.4L600.3 288.1L602.2 287.8L604.2 287.4L606.2 287.1L608.1 286.8L610.1 286.5L612.1 286.2L614.1 285.8L616.0 285.5L618.0 285.2L620.0 284.9L622.0 284.6L623.9 284.3L625.9 284.0L627.9 283.7L629.9 283.4L631.8 283.0L633.8 282.7L635.8 282.4L637.8 282.1L639.7 281.8L641.7 281.5L643.7 281.2L645.7 280.9L647.6 280.7L649.6 280.4L651.6 280.1L653.6 279.8L655.5 279.5L657.5 279.2L659.5 278.9L661.5 278.6L663.5 278.3L665.4 278.1L667.4 277.8L669.4 277.5L671.4 277.2L673.4 276.9L675.3 276.7L677.3 276.4L679.3 276.1L681.3 275.9L683.3 275.6L685.2 275.3L687.2 275.0L689.2 274.8L691.2 274.5L693.2 274.3L695.1 274.0L697.1 273.7L699.1 273.5L701.1 273.2L703.1 273.0L705.1 272.7L707.0 272.5L709.0 272.2L711.0 272.0L713.0 271.7L715.0 271.5L717.0 271.2L719.0 271.0L720.9 270.7L722.9 270.5L724.9 270.3L726.9 270.0L728.9 269.8L730.9 269.6L732.9 269.3L734.8 269.1L736.8 268.9L738.8 268.6L740.8 268.4L742.8 268.2L744.8 268.0L746.8 267.7L748.8 267.5L750.7 267.3L752.7 267.1L754.7 266.9L756.7 266.6L758.7 266.4L760.7 266.2L762.7 266.0L764.7 265.8L766.7 265.6L768.7 265.4L770.6 265.2L772.6 265.0L774.6 264.8L776.6 264.6L778.6 264.4L780.6 264.2L782.6 264.0"/>
<path stroke="#ff7f00" d="M110.0 394.6L110.5 392.7L110.9 390.8L111.4 388.8L111.8 386.9L112.2 385.0L112.6 383.0L113.1 381.1L113.5 379.1L113.9 377.2L114.3 375.2L114.7 373.2L115.1 371.3L115.6 369.3L116.0 367.3L116.4 365.4L116.8 363.4L117.3 361.4L117.7 359.5L118.2 357.5L118.7 355.5L119.1 353.6L119.6 351.6L120.1 349.7L120.7 347.7L121.2 345.8L121.8 343.9L122.3 342.0L122.9 340.0L123.6 338.1L124.2 336.2L124.9 334.4L125.6 332.5L126.3 330.6L127.0 328.8L127.8 326.9L128.5 325.1L129.3 323.3L130.2 321.5L131.0 319.7L131.9 317.9L132.8 316.1L133.7 314.3L134.6 312.6L135.5 310.8L136.5 309.1L137.5 307.4L138.5 305.7L139.5 304.0L140.6 302.3L141.6 300.6L142.7 299.0L143.8 297.3L144.9 295.7L146.1 294.1L147.2 292.5L148.4 290.9L149.6 289.3L150.8 287.7L152.0 286.2L153.2 284.6L154.5 283.1L155.8 281.6L157.1 280.1L158.4 278.6L159.7 277.2L161.0 275.7L162.4 274.3L163.7 272.8L165.1 271.4L166.5 270.0L167.9 268.6L169.3 267.2L170.8 265.9L172.2 264.5L173.7 263.2L175.1 261.8L176.6 260.5L178.1 259.2L179.6 257.9L181.1 256.6L182.7 255.4L184.2 254.1L185.8 252.9L187.3 251.6L188.9 250.4L190.5 249.2L192.1 248.0L193.7 246.8L195.3 245.6L196.9 244.4L198.6 243.3L200.2 242.1L201.9 241.0L203.5 239.9L205.2 238.7L206.9 237.6L208.6 236.5L210.3 235.4L212.0 234.4L213.7 233.3L215.4 232.2L217.1 231.2L218.8 230.1L220.6 229.1L222.3 228.1L224.0 227.1L225.8 226.0L227.5 225.0L229.3 224.1L231.1 223.1L232.8 222.1L234.6 221.1L236.4 220.2L238.2 219.2L240.0 218.3L241.7 217.4L243.5 216.4L245.3 215.5L247.1 214.6L248.9 213.7L250.7 212.8L252.5 211.9L254.4 211.0L256.2 210.2L258.0 209.3L259.8 208.5L261.6 207.6L263.4 206.8L265.2 205.9L267.1 205.1L268.9 204.3L270.7 203.4L272.5 202.6L274.4 201.8L276.2 201.0L278.0 200.2L279.9 199.5L281.7 198.7L283.6 197.9L285.4 197.1L287.3 196.4L289.1 195.6L291.0 194.9L292.8 194.1L294.7 193.4L296.5 192.7L298.4 191.9L300.2 191.2L302.1 190.5L303.9 189.8L305.8 189.1L307.7 188.4L309.5 187.7L311.4 187.0L313.3 186.3L315.2 185.6L317.0 185.0L318.9 184.3L320.8 183.6L322.7 183.0L324.5 182.3L326.4 181.7L328.3 181.0L330.2 180.4L332.1 179.7L334.0 179.1L335.8 178.5L337.7 177.8L339.6 177.2L341.5 176.6L343.4 176.0L345.3 175.4L347.2 174.8L349.1 174.2L351.0 173.6L352.9 173.0L354.8 172.4L356.7 171.8L358.6 171.2L360.5 170.6L362.4 170.1L364.3 169.5L366.2 168.9L368.1 168.4L370.1 167.8L372.0 167.2L373.9 166.7L375.8 166.1L377.7 165.6L379.6 165.0L381.5 164.5L383.4 163.9L385.4 163.4L387.3 162.8L389.2 162.3L391.1 161.8L393.0 161.2L395.0 160.7L396.9 160.2L398.8 159.6L400.7 159.1L402.7 158.6L404.6 158.1L406.5 157.6L408.4 157.1L410.4 156.5L412.3 156.0L414.2 155.5L416.1 155.0L418.1 154.5L420.0 154.0L421.9 153.5L423.9 153.1L425.8 152.6L427.7 152.1L429.7 151.6L431.6 151.1L433.6 150.6L435.5 150.2L437.4 149.7L439.4 149.2L441.3 148.7L443.3 148.3L445.2 147.8L447.1 147.3L449.1 146.9L451.0 146.4L453.0 146.0L454.9 145.5L456.9 145.1L458.8 144.6L460.8 144.2L462.7 143.7L464.6 143.3L466.6 142.8L468.5 142.4L470.5 142.0L472.4 141.5L474.4 141.1L476.4 140.7L478.3 140.3L480.3 139.8L482.2 139.4L484.2 139.0L486.1 138.6L488.1 138.2L490.0 137.7L492.0 137.3L493.9 136.9L495.9 136.5L497.9 136.1L499.8 135.7L501.8 135.3L503.7 134.9L505.7 134.5L507.7 134.1L509.6 133.7L511.6 133.3L513.5 132.9L515.5 132.6L517.5 132.2L519.4 131.8L521.4 131.4L523.4 131.0L525.3 130.7L527.3 130.3L529.3 129.9L531.2 129.5L533.2 129.2L535.2 128.8L537.1 128.4L539.1 128.1L541.1 127.7L543.0 127.3L545.0 127.0L547.0 126.6L549.0 126.3L550.9 125.9L552.9 125.6L554.9 125.2L556.8 124.9L558.8 124.5L560.8 124.2L562.8 123.8L564.7 123.5L566.7 123.2L568.7 122.8L570.7 122.5L572.6 122.2L574.6 121.8L576.6 121.5L578.6 121.2L580.5 120.8L582.5 120.5L584.5 120.2L586.5 119.9L588.4 119.5L590.4 119.2L592.4 118.9L594.4 118.6L596.4 118.3L598.3 118.0L600.3 117.6L602.3 117.3L604.3 117.0L606.2 116.7L608.2 116.4L610.2 116.1L612.2 115.8L614.2 115.5L616.2 115.2L618.1 114.9L620.1 114.6L622.1 114.3L624.1 114.0L626.1 113.7L628.0 113.4L630.0 113.1L632.0 112.9L634.0 112.6L636.0 112.3L637.9 112.0L639.9 111.7L641.9 111.4L643.9 111.2L645.9 110.9L647.9 110.6L649.8 110.3L651.8 110.0L653.8 109.8L655.8 109.5L657.8 109.2L659.8 109.0L661.7 108.7L663.7 108.4L665.7 108.2L667.7 107.9L669.7 107.6L671.7 107.4L673.6 107.1L675.6 106.8L677.6 106.6L679.6 106.3L681.6 106.1L683.6 105.8L685.5 105.5L687.5 105.3L689.5 105.0L691.5 104.8L693.5 104.5L695.5 104.3L697.4 104.0L699.4 103.8L701.4 103.5L703.4 103.3L705.4 103.0L707.4 102.8L709.3 102.6L711.3 102.3L713.3 102.1L715.3 101.8L717.3 101.6L719.3 101.3L721.2 101.1L723.2 100.9L725.2 100.6L727.2 100.4L729.2 100.2L731.1 99.9L733.1 99.7L735.1 99.5L737.1 99.2L739.1 99.0L741.1 98.8L743.0 98.5L745.0 98.3L747.0 98.1L749.0 97.9L751.0 97.6L752.9 97.4L754.9 97.2L756.9 97.0L758.9 96.7L760.8 96.5L762.8 96.3L764.8 96.1L766.8 95.9L768.8 95.6L770.7 95.4L772.7 95.2L774.7 95.0L776.7 94.8L778.6 94.5L780.6 94.3L782.6 94.1"/>
<path stroke="#ff7f00" stroke-dasharray="5.82 9.70" d="M110.0 394.6L110.4 392.6L110.9 390.7L111.3 388.7L111.8 386.8L112.3 384.8L112.8 382.9L113.3 380.9L113.9 379.0L114.4 377.1L115.0 375.1L115.6 373.2L116.2 371.3L116.8 369.4L117.5 367.5L118.1 365.6L118.8 363.7L119.5 361.8L120.2 359.9L120.9 358.1L121.7 356.2L122.4 354.4L123.2 352.5L124.0 350.7L124.8 348.9L125.6 347.0L126.5 345.2L127.3 343.4L128.2 341.7L129.1 339.9L130.0 338.1L131.0 336.3L131.9 334.6L132.9 332.9L133.8 331.1L134.9 329.4L135.9 327.7L136.9 326.0L138.0 324.4L139.0 322.7L140.1 321.0L141.2 319.4L142.4 317.8L143.5 316.1L144.7 314.5L145.9 313.0L147.1 311.4L148.3 309.8L149.5 308.3L150.8 306.7L152.0 305.2L153.3 303.7L154.6 302.2L156.0 300.8L157.3 299.3L158.7 297.9L160.1 296.5L161.5 295.1L162.9 293.7L164.3 292.3L165.8 290.9L167.3 289.6L168.8 288.3L170.3 286.9L171.8 285.6L173.3 284.4L174.8 283.1L176.4 281.8L178.0 280.6L179.6 279.3L181.2 278.1L182.8 276.9L184.4 275.7L186.0 274.5L187.6 273.4L189.3 272.2L190.9 271.0L192.6 269.9L194.3 268.8L196.0 267.7L197.6 266.5L199.3 265.4L201.0 264.4L202.7 263.3L204.4 262.2L206.2 261.1L207.9 260.1L209.6 259.0L211.3 258.0L213.0 257.0L214.8 256.0L216.5 255.0L218.2 254.0L220.0 253.0L221.7 252.0L223.5 251.0L225.2 250.1L227.0 249.1L228.8 248.2L230.5 247.2L232.3 246.3L234.1 245.4L235.9 244.5L237.7 243.7L239.4 242.8L241.2 241.9L243.0 241.1L244.9 240.3L246.7 239.4L248.5 238.6L250.3 237.8L252.1 237.0L254.0 236.2L255.8 235.5L257.6 234.7L259.5 233.9L261.3 233.2L263.1 232.4L265.0 231.7L266.8 231.0L268.7 230.2L270.5 229.5L272.4 228.8L274.3 228.1L276.1 227.4L278.0 226.7L279.8 226.0L281.7 225.4L283.6 224.7L285.5 224.0L287.3 223.4L289.2 222.7L291.1 222.1L293.0 221.4L294.8 220.8L296.7 220.2L298.6 219.5L300.5 218.9L302.4 218.3L304.3 217.7L306.2 217.1L308.1 216.5L310.0 215.9L311.9 215.3L313.8 214.7L315.7 214.2L317.6 213.6L319.5 213.0L321.4 212.5L323.3 211.9L325.3 211.4L327.2 210.8L329.1 210.3L331.0 209.7L332.9 209.2L334.9 208.7L336.8 208.2L338.7 207.6L340.6 207.1L342.6 206.6L344.5 206.1L346.4 205.6L348.4 205.1L350.3 204.6L352.2 204.2L354.2 203.7L356.1 203.2L358.1 202.7L360.0 202.3L361.9 201.8L363.9 201.3L365.8 200.9L367.8 200.4L369.7 200.0L371.7 199.5L373.6 199.1L375.6 198.7L377.5 198.2L379.5 197.8L381.4 197.4L383.4 196.9L385.4 196.5L387.3 196.1L389.3 195.7L391.2 195.3L393.2 194.9L395.2 194.4L397.1 194.0L399.1 193.6L401.0 193.2L403.0 192.9L405.0 192.5L406.9 192.1L408.9 191.7L410.9 191.3L412.8 190.9L414.8 190.5L416.8 190.2L418.8 189.8L420.7 189.4L422.7 189.1L424.7 188.7L426.6 188.3L428.6 188.0L430.6 187.6L432.6 187.2L434.5 186.9L436.5 186.5L438.5 186.2L440.5 185.8L442.4 185.5L444.4 185.1L446.4 184.8L448.4 184.4L450.3 184.1L452.3 183.7L454.3 183.4L456.3 183.1L458.2 182.7L460.2 182.4L462.2 182.0L464.2 181.7L466.1 181.4L468.1 181.0L470.1 180.7L472.1 180.4L474.0 180.1L476.0 179.7L478.0 179.4L480.0 179.1L481.9 178.7L483.9 178.4L485.9 178.1L487.9 177.8L489.8 177.4L491.8 177.1L493.8 176.8L495.8 176.5L497.7 176.2L499.7 175.8L501.7 175.5L503.7 175.2L505.6 174.9L507.6 174.6L509.6 174.2L511.5 173.9L513.5 173.6L515.5 173.3L517.5 173.0L519.4 172.7L521.4 172.4L523.4 172.1L525.4 171.7L527.3 171.4L529.3 171.1L531.3 170.8L533.3 170.5L535.2 170.2L537.2 169.9L539.2 169.6L541.1 169.3L543.1 169.0L545.1 168.7L547.1 168.4L549.0 168.1L551.0 167.8L553.0 167.5L555.0 167.2L556.9 166.9L558.9 166.6L560.9 166.3L562.8 166.0L564.8 165.7L566.8 165.4L568.8 165.1L570.7 164.8L572.7 164.5L574.7 164.2L576.7 163.9L578.6 163.7L580.6 163.4L582.6 163.1L584.5 162.8L586.5 162.5L588.5 162.2L590.5 161.9L592.4 161.6L594.4 161.4L596.4 161.1L598.4 160.8L600.3 160.5L602.3 160.2L604.3 160.0L606.2 159.7L608.2 159.4L610.2 159.1L612.2 158.8L614.1 158.6L616.1 158.3L618.1 158.0L620.1 157.7L622.0 157.5L624.0 157.2L626.0 156.9L628.0 156.6L629.9 156.4L631.9 156.1L633.9 155.8L635.9 155.5L637.8 155.3L639.8 155.0L641.8 154.7L643.8 154.5L645.7 154.2L647.7 153.9L649.7 153.7L651.7 153.4L653.6 153.1L655.6 152.9L657.6 152.6L659.6 152.4L661.6 152.1L663.5 151.8L665.5 151.6L667.5 151.3L669.5 151.0L671.4 150.8L673.4 150.5L675.4 150.3L677.4 150.0L679.4 149.8L681.3 149.5L683.3 149.3L685.3 149.0L687.3 148.7L689.3 148.5L691.2 148.2L693.2 148.0L695.2 147.7L697.2 147.5L699.2 147.2L701.1 147.0L703.1 146.7L705.1 146.5L707.1 146.2L709.1 146.0L711.0 145.7L713.0 145.5L715.0 145.2L717.0 145.0L719.0 144.8L721.0 144.5L722.9 144.3L724.9 144.0L726.9 143.8L728.9 143.5L730.9 143.3L732.9 143.1L734.9 142.8L736.8 142.6L738.8 142.3L740.8 142.1L742.8 141.9L744.8 141.6L746.8 141.4L748.8 141.2L750.8 140.9L752.7 140.7L754.7 140.4L756.7 140.2L758.7 140.0L760.7 139.7L762.7 139.5L764.7 139.3L766.7 139.1L768.7 138.8L770.6 138.6L772.6 138.4L774.6 138.1L776.6 137.9L778.6 137.7L780.6 137.4L782.6 137.2"/>
<path stroke="#00ffff" d="M110.0 394.6L110.3 392.6L110.5 390.7L110.8 388.7L111.1 386.7L111.4 384.8L111.7 382.8L112.1 380.8L112.4 378.9L112.7 376.9L113.1 374.9L113.5 372.9L113.9 371.0L114.3 369.0L114.7 367.0L115.1 365.1L115.6 363.1L116.0 361.1L116.5 359.2L117.0 357.2L117.5 355.3L118.0 353.3L118.5 351.4L119.1 349.5L119.6 347.5L120.2 345.6L120.8 343.7L121.4 341.8L122.1 339.9L122.7 338.0L123.4 336.1L124.1 334.2L124.8 332.3L125.5 330.5L126.3 328.6L127.0 326.8L127.8 324.9L128.6 323.1L129.4 321.3L130.3 319.5L131.1 317.7L132.0 315.9L132.9 314.2L133.8 312.4L134.8 310.7L135.8 309.0L136.8 307.3L137.8 305.6L138.8 303.9L139.9 302.2L141.0 300.6L142.1 298.9L143.2 297.3L144.3 295.7L145.5 294.1L146.7 292.6L147.9 291.0L149.2 289.5L150.4 287.9L151.7 286.4L153.0 285.0L154.4 283.5L155.7 282.0L157.1 280.6L158.5 279.2L159.9 277.7L161.3 276.4L162.7 275.0L164.2 273.6L165.6 272.3L167.1 270.9L168.6 269.6L170.1 268.3L171.6 267.0L173.2 265.8L174.7 264.5L176.3 263.3L177.9 262.1L179.5 260.9L181.1 259.7L182.7 258.5L184.3 257.3L186.0 256.2L187.6 255.0L189.3 253.9L191.0 252.8L192.6 251.7L194.3 250.6L196.0 249.6L197.7 248.5L199.4 247.5L201.2 246.4L202.9 245.4L204.6 244.4L206.4 243.4L208.1 242.4L209.9 241.4L211.6 240.5L213.4 239.5L215.2 238.6L217.0 237.7L218.8 236.7L220.5 235.8L222.3 234.9L224.1 234.0L225.9 233.1L227.7 232.3L229.5 231.4L231.3 230.5L233.2 229.7L235.0 228.8L236.8 228.0L238.6 227.2L240.4 226.3L242.3 225.5L244.1 224.7L245.9 223.9L247.8 223.2L249.6 222.4L251.4 221.6L253.3 220.9L255.1 220.1L257.0 219.3L258.8 218.6L260.7 217.9L262.5 217.2L264.4 216.4L266.3 215.7L268.1 215.0L270.0 214.3L271.9 213.6L273.7 213.0L275.6 212.3L277.5 211.6L279.4 210.9L281.2 210.3L283.1 209.6L285.0 209.0L286.9 208.4L288.8 207.7L290.7 207.1L292.6 206.5L294.5 205.9L296.4 205.3L298.3 204.7L300.2 204.1L302.1 203.5L304.0 202.9L305.9 202.3L307.8 201.7L309.7 201.2L311.6 200.6L313.5 200.1L315.5 199.5L317.4 199.0L319.3 198.4L321.2 197.9L323.1 197.3L325.1 196.8L327.0 196.3L328.9 195.8L330.8 195.2L332.8 194.7L334.7 194.2L336.6 193.7L338.6 193.2L340.5 192.7L342.4 192.2L344.4 191.8L346.3 191.3L348.3 190.8L350.2 190.3L352.1 189.8L354.1 189.4L356.0 188.9L358.0 188.4L359.9 188.0L361.9 187.5L363.8 187.1L365.7 186.6L367.7 186.2L369.6 185.7L371.6 185.3L373.5 184.8L375.5 184.4L377.4 184.0L379.4 183.5L381.4 183.1L383.3 182.7L385.3 182.2L387.2 181.8L389.2 181.4L391.1 181.0L393.1 180.6L395.0 180.1L397.0 179.7L398.9 179.3L400.9 178.9L402.8 178.5L404.8 178.1L406.8 177.7L408.7 177.3L410.7 176.9L412.6 176.4L414.6 176.0L416.5 175.7L418.5 175.3L420.5 174.9L422.4 174.5L424.4 174.1L426.3 173.7L428.3 173.3L430.3 172.9L432.2 172.5L434.2 172.1L436.1 171.8L438.1 171.4L440.1 171.0L442.0 170.6L444.0 170.2L446.0 169.9L447.9 169.5L449.9 169.1L451.8 168.8L453.8 168.4L455.8 168.0L457.7 167.7L459.7 167.3L461.7 166.9L463.6 166.6L465.6 166.2L467.6 165.9L469.5 165.5L471.5 165.2L473.5 164.8L475.4 164.5L477.4 164.1L479.4 163.8L481.3 163.4L483.3 163.1L485.3 162.7L487.2 162.4L489.2 162.1L491.2 161.7L493.1 161.4L495.1 161.1L497.1 160.7L499.0 160.4L501.0 160.1L503.0 159.8L504.9 159.4L506.9 159.1L508.9 158.8L510.9 158.5L512.8 158.1L514.8 157.8L516.8 157.5L518.7 157.2L520.7 156.9L522.7 156.6L524.7 156.3L526.6 155.9L528.6 155.6L530.6 155.3L532.6 155.0L534.5 154.7L536.5 154.4L538.5 154.1L540.4 153.8L542.4 153.5L544.4 153.2L546.4 152.9L548.3 152.7L550.3 152.4L552.3 152.1L554.3 151.8L556.2 151.5L558.2 151.2L560.2 150.9L562.2 150.6L564.2 150.4L566.1 150.1L568.1 149.8L570.1 149.5L572.1 149.3L574.0 149.0L576.0 148.7L578.0 148.4L580.0 148.2L582.0 147.9L583.9 147.6L585.9 147.4L587.9 147.1L589.9 146.8L591.8 146.6L593.8 146.3L595.8 146.1L597.8 145.8L599.8 145.6L601.8 145.3L603.7 145.0L605.7 144.8L607.7 144.5L609.7 144.3L611.7 144.0L613.6 143.8L615.6 143.6L617.6 143.3L619.6 143.1L621.6 142.8L623.5 142.6L625.5 142.4L627.5 142.1L629.5 141.9L631.5 141.6L633.5 141.4L635.4 141.2L637.4 140.9L639.4 140.7L641.4 140.5L643.4 140.3L645.4 140.0L647.4 139.8L649.3 139.6L651.3 139.4L653.3 139.1L655.3 138.9L657.3 138.7L659.3 138.5L661.2 138.3L663.2 138.1L665.2 137.9L667.2 137.6L669.2 137.4L671.2 137.2L673.2 137.0L675.1 136.8L677.1 136.6L679.1 136.4L681.1 136.2L683.1 136.0L685.1 135.8L687.1 135.6L689.1 135.4L691.0 135.2L693.0 135.0L695.0 134.8L697.0 134.6L699.0 134.4L701.0 134.2L703.0 134.0L705.0 133.8L707.0 133.6L708.9 133.5L710.9 133.3L712.9 133.1L714.9 132.9L716.9 132.7L718.9 132.5L720.9 132.4L722.9 132.2L724.9 132.0L726.8 131.8L728.8 131.7L730.8 131.5L732.8 131.3L734.8 131.1L736.8 131.0L738.8 130.8L740.8 130.6L742.8 130.4L744.8 130.3L746.7 130.1L748.7 129.9L750.7 129.8L752.7 129.6L754.7 129.5L756.7 129.3L758.7 129.1L760.7 129.0L762.7 128.8L764.7 128.7L766.7 128.5L768.7 128.4L770.6 128.2L772.6 128.0L774.6 127.9L776.6 127.7L778.6 127.6L780.6 127.4L782.6 127.3"/>
<path stroke="#00ffff" stroke-dasharray="5.82 9.70" d="M110.0 394.6L110.4 392.7L110.9 390.7L111.3 388.8L111.8 386.8L112.3 384.9L112.7 383.0L113.3 381.0L113.8 379.1L114.3 377.1L114.9 375.2L115.5 373.3L116.0 371.4L116.7 369.5L117.3 367.5L117.9 365.6L118.6 363.7L119.3 361.8L120.0 360.0L120.7 358.1L121.4 356.2L122.2 354.3L122.9 352.5L123.7 350.7L124.5 348.8L125.4 347.0L126.2 345.2L127.1 343.4L128.0 341.6L128.9 339.8L129.9 338.0L130.8 336.3L131.8 334.6L132.8 332.8L133.8 331.1L134.9 329.4L136.0 327.7L137.1 326.1L138.2 324.4L139.3 322.8L140.5 321.2L141.7 319.6L142.9 318.0L144.1 316.4L145.3 314.8L146.6 313.3L147.8 311.8L149.1 310.2L150.4 308.7L151.7 307.3L153.1 305.8L154.4 304.3L155.8 302.9L157.2 301.5L158.6 300.1L160.0 298.7L161.4 297.4L162.9 296.0L164.4 294.7L165.8 293.4L167.3 292.1L168.8 290.8L170.3 289.5L171.8 288.3L173.4 287.0L174.9 285.8L176.5 284.6L178.1 283.4L179.7 282.2L181.3 281.1L182.9 279.9L184.5 278.8L186.1 277.7L187.8 276.6L189.4 275.5L191.1 274.4L192.7 273.3L194.4 272.3L196.1 271.2L197.8 270.2L199.5 269.2L201.3 268.2L203.0 267.2L204.7 266.2L206.5 265.3L208.2 264.3L210.0 263.4L211.7 262.4L213.5 261.5L215.3 260.6L217.1 259.7L218.9 258.8L220.7 258.0L222.5 257.1L224.3 256.2L226.1 255.4L228.0 254.6L229.8 253.7L231.6 252.9L233.5 252.1L235.3 251.3L237.2 250.5L239.0 249.7L240.9 249.0L242.8 248.2L244.6 247.5L246.5 246.7L248.4 246.0L250.2 245.2L252.1 244.5L254.0 243.8L255.9 243.1L257.8 242.4L259.7 241.7L261.6 241.0L263.4 240.3L265.3 239.6L267.2 239.0L269.1 238.3L271.0 237.7L272.9 237.0L274.8 236.4L276.7 235.7L278.6 235.1L280.5 234.5L282.4 233.8L284.3 233.2L286.3 232.6L288.2 232.0L290.1 231.4L292.0 230.8L293.9 230.2L295.8 229.6L297.7 229.1L299.6 228.5L301.5 227.9L303.5 227.4L305.4 226.8L307.3 226.3L309.2 225.7L311.1 225.2L313.1 224.6L315.0 224.1L316.9 223.6L318.8 223.1L320.8 222.5L322.7 222.0L324.6 221.5L326.6 221.0L328.5 220.5L330.4 220.0L332.3 219.5L334.3 219.1L336.2 218.6L338.1 218.1L340.1 217.6L342.0 217.2L344.0 216.7L345.9 216.2L347.8 215.8L349.8 215.3L351.7 214.9L353.7 214.5L355.6 214.0L357.5 213.6L359.5 213.1L361.4 212.7L363.4 212.3L365.3 211.9L367.3 211.5L369.2 211.0L371.2 210.6L373.1 210.2L375.1 209.8L377.0 209.4L379.0 209.0L380.9 208.6L382.9 208.2L384.8 207.9L386.8 207.5L388.7 207.1L390.7 206.7L392.7 206.3L394.6 206.0L396.6 205.6L398.5 205.2L400.5 204.8L402.4 204.5L404.4 204.1L406.4 203.8L408.3 203.4L410.3 203.1L412.2 202.7L414.2 202.4L416.2 202.0L418.1 201.7L420.1 201.3L422.1 201.0L424.0 200.6L426.0 200.3L428.0 200.0L429.9 199.6L431.9 199.3L433.9 199.0L435.8 198.7L437.8 198.3L439.8 198.0L441.7 197.7L443.7 197.4L445.7 197.0L447.6 196.7L449.6 196.4L451.6 196.1L453.5 195.8L455.5 195.5L457.5 195.1L459.5 194.8L461.4 194.5L463.4 194.2L465.4 193.9L467.3 193.6L469.3 193.3L471.3 193.0L473.3 192.7L475.2 192.4L477.2 192.1L479.2 191.8L481.2 191.5L483.1 191.2L485.1 190.9L487.1 190.6L489.1 190.3L491.0 190.0L493.0 189.7L495.0 189.4L497.0 189.1L498.9 188.8L500.9 188.5L502.9 188.2L504.9 187.9L506.8 187.6L508.8 187.3L510.8 187.0L512.8 186.7L514.7 186.4L516.7 186.1L518.7 185.8L520.7 185.5L522.6 185.3L524.6 185.0L526.6 184.7L528.6 184.4L530.6 184.1L532.5 183.8L534.5 183.5L536.5 183.3L538.5 183.0L540.4 182.7L542.4 182.4L544.4 182.1L546.4 181.9L548.4 181.6L550.3 181.3L552.3 181.0L554.3 180.8L556.3 180.5L558.3 180.2L560.2 179.9L562.2 179.7L564.2 179.4L566.2 179.1L568.2 178.8L570.1 178.6L572.1 178.3L574.1 178.0L576.1 177.8L578.1 177.5L580.1 177.2L582.0 177.0L584.0 176.7L586.0 176.5L588.0 176.2L590.0 175.9L591.9 175.7L593.9 175.4L595.9 175.2L597.9 174.9L599.9 174.6L601.9 174.4L603.8 174.1L605.8 173.9L607.8 173.6L609.8 173.4L611.8 173.1L613.8 172.9L615.7 172.6L617.7 172.4L619.7 172.1L621.7 171.9L623.7 171.6L625.7 171.4L627.6 171.2L629.6 170.9L631.6 170.7L633.6 170.4L635.6 170.2L637.6 170.0L639.6 169.7L641.5 169.5L643.5 169.2L645.5 169.0L647.5 168.8L649.5 168.5L651.5 168.3L653.4 168.1L655.4 167.9L657.4 167.6L659.4 167.4L661.4 167.2L663.4 166.9L665.4 166.7L667.3 166.5L669.3 166.3L671.3 166.1L673.3 165.8L675.3 165.6L677.3 165.4L679.3 165.2L681.2 165.0L683.2 164.7L685.2 164.5L687.2 164.3L689.2 164.1L691.2 163.9L693.2 163.7L695.2 163.5L697.1 163.3L699.1 163.1L701.1 162.9L703.1 162.7L705.1 162.4L707.1 162.2L709.1 162.0L711.0 161.8L713.0 161.6L715.0 161.4L717.0 161.3L719.0 161.1L721.0 160.9L723.0 160.7L725.0 160.5L726.9 160.3L728.9 160.1L730.9 159.9L732.9 159.7L734.9 159.5L736.9 159.3L738.9 159.2L740.9 159.0L742.8 158.8L744.8 158.6L746.8 158.4L748.8 158.3L750.8 158.1L752.8 157.9L754.8 157.7L756.8 157.6L758.7 157.4L760.7 157.2L762.7 157.0L764.7 156.9L766.7 156.7L768.7 156.5L770.7 156.4L772.7 156.2L774.6 156.1L776.6 155.9L778.6 155.7L780.6 155.6L782.6 155.4"/>
</g>
<g fill="none" stroke-width="1.94" stroke-linecap="round">
<path stroke="#000000" d="M412.35 589.20L446.90 589.20"/>
<path stroke="#000000" stroke-dasharray="5.82 9.70" d="M412.35 612.05L446.90 612.05"/>
<path stroke="#a020f0" d="M412.35 634.90L446.90 634.90"/>
<path stroke="#a020f0" stroke-dasharray="5.82 9.70" d="M412.35 657.75L446.90 657.75"/>
<path stroke="#a020f0" stroke-dasharray="0.01 7.75" d="M412.35 680.60L446.90 680.60"/>
<path stroke="#a020f0" stroke-dasharray="0.01 7.75 5.82 7.76" d="M412.35 703.45L446.90 703.45"/>
<path stroke="#00ff00" d="M615.35 589.20L649.90 589.20"/>
<path stroke="#00ff00" stroke-dasharray="5.82 9.70" d="M615.35 612.05L649.90 612.05"/>
<path stroke="#ffa500" d="M615.35 634.90L649.90 634.90"/>
<path stroke="#ffa500" stroke-dasharray="5.82 9.70" d="M615.35 657.75L649.90 657.75"/>
<path stroke="#00ffff" d="M615.35 680.60L649.90 680.60"/>
<path stroke="#00ffff" stroke-dasharray="5.82 9.70" d="M615.35 703.45L649.90 703.45"/>
</g>
<g filter="url(#idf)" font-family="'Liberation Sans', sans-serif" font-size="18.6" fill="#000">
<text x="463.5" y="596.10">sg01c20sf</text>
<text x="463.5" y="618.95">sg01c20wf</text>
<text x="463.5" y="641.80">sg025c20sf</text>
<text x="463.5" y="664.65">sg025c20wf</text>
<text x="463.5" y="687.50">sg025c20w04sf</text>
<text x="463.5" y="710.35">sg025c20w04wf</text>
<text x="666.5" y="596.10">sg025c10sf</text>
<text x="666.5" y="618.95">sg025c10wf</text>
<text x="666.5" y="641.80">sg04c20sf</text>
<text x="666.5" y="664.65">sg04c20wf</text>
<text x="666.5" y="687.50">sg04c10sf</text>
<text x="666.5" y="710.35">sg04c10wf</text>
</g>
<rect x="83.0" y="20.5" width="726.4" height="705.4" fill="none" stroke="#000" stroke-width="1.94"/>
<g stroke="#000" stroke-width="0.97" fill="none">
<path d="M110.0 725.9V718.4M110.0 20.5V28.0"/>
<path d="M213.4 725.9V718.4M213.4 20.5V28.0"/>
<path d="M316.8 725.9V718.4M316.8 20.5V28.0"/>
<path d="M420.2 725.9V718.4M420.2 20.5V28.0"/>
<path d="M523.6 725.9V718.4M523.6 20.5V28.0"/>
<path d="M627.0 725.9V718.4M627.0 20.5V28.0"/>
<path d="M730.4 725.9V718.4M730.4 20.5V28.0"/>
<path d="M83.0 46.6H90.5M809.4 46.6H801.9"/>
<path d="M83.0 220.6H90.5M809.4 220.6H801.9"/>
<path d="M83.0 394.6H90.5M809.4 394.6H801.9"/>
<path d="M83.0 568.6H90.5M809.4 568.6H801.9"/>
</g>
<g filter="url(#idf)" font-family="'Liberation Sans', sans-serif" font-size="23.0" fill="#000" text-anchor="middle">
<text x="110.0" y="763.6">0</text>
<text x="213.4" y="763.6">2000</text>
<text x="316.8" y="763.6">4000</text>
<text x="420.2" y="763.6">6000</text>
<text x="523.6" y="763.6">8000</text>
<text x="627.0" y="763.6">10000</text>
<text x="730.4" y="763.6">12000</text>
<text x="446.2" y="804.6">Time (Myr)</text>
<text transform="translate(57.8 46.6) rotate(-90)">0.8</text>
<text transform="translate(57.8 220.6) rotate(-90)">0.6</text>
<text transform="translate(57.8 394.6) rotate(-90)">0.4</text>
<text transform="translate(57.8 568.6) rotate(-90)">0.2</text>
<text font-size="23.0" transform="translate(28.9 414.35) rotate(-90)">M</text>
<text font-size="16.1" transform="translate(32.9 395.25) rotate(-90)">2G</text>
<text font-size="23.0" transform="translate(28.9 363.10) rotate(-90)">M</text>
<text font-size="16.1" transform="translate(32.9 337.45) rotate(-90)">TOT</text>
</g>
<path d="M8.8 375.3L31.8 381.6" stroke="#000" stroke-width="1.35" fill="none"/>
</svg>
</body></html>
